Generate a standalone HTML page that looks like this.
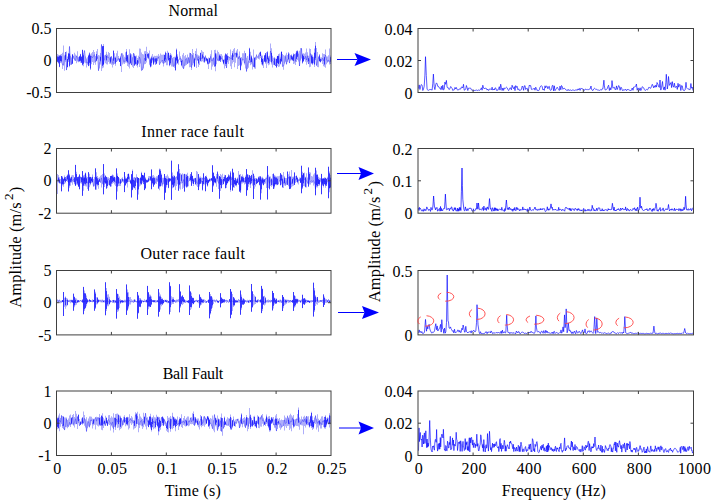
<!DOCTYPE html><html><head><meta charset="utf-8"><style>html,body{margin:0;padding:0;background:#fff;overflow:hidden}svg{display:block}text{font-family:"Liberation Serif",serif;fill:#000}</style></head><body>
<svg width="714" height="504" viewBox="0 0 714 504">
<rect width="714" height="504" fill="#fff"/>
<clipPath id="cl0"><rect x="56.5" y="28.5" width="274.5" height="64.0"/></clipPath>
<g clip-path="url(#cl0)">
<polygon points="57.0,54.0 58.0,54.0 58.0,54.7 59.0,54.7 59.0,55.5 60.0,55.5 60.0,54.6 61.0,54.6 61.0,54.1 62.0,54.1 62.0,52.7 63.0,52.7 63.0,45.6 64.0,45.6 64.0,55.5 65.0,55.5 65.0,51.9 66.0,51.9 66.0,51.5 67.0,51.5 67.0,56.4 68.0,56.4 68.0,53.2 69.0,53.2 69.0,46.4 70.0,46.4 70.0,55.8 71.0,55.8 71.0,57.6 72.0,57.6 72.0,54.3 73.0,54.3 73.0,55.9 74.0,55.9 74.0,52.7 75.0,52.7 75.0,54.6 76.0,54.6 76.0,55.8 77.0,55.8 77.0,51.2 78.0,51.2 78.0,57.1 79.0,57.1 79.0,55.9 80.0,55.9 80.0,53.8 81.0,53.8 81.0,56.0 82.0,56.0 82.0,49.6 83.0,49.6 83.0,53.6 84.0,53.6 84.0,50.6 85.0,50.6 85.0,56.6 86.0,56.6 86.0,58.4 87.0,58.4 87.0,57.2 88.0,57.2 88.0,54.7 89.0,54.7 89.0,52.7 90.0,52.7 90.0,54.4 91.0,54.4 91.0,53.3 92.0,53.3 92.0,52.0 93.0,52.0 93.0,50.0 94.0,50.0 94.0,52.0 95.0,52.0 95.0,56.1 96.0,56.1 96.0,51.2 97.0,51.2 97.0,49.1 98.0,49.1 98.0,55.1 99.0,55.1 99.0,55.4 100.0,55.4 100.0,52.9 101.0,52.9 101.0,44.4 102.0,44.4 102.0,46.0 103.0,46.0 103.0,43.9 104.0,43.9 104.0,55.3 105.0,55.3 105.0,54.8 106.0,54.8 106.0,51.8 107.0,51.8 107.0,54.7 108.0,54.7 108.0,52.1 109.0,52.1 109.0,53.0 110.0,53.0 110.0,56.5 111.0,56.5 111.0,56.3 112.0,56.3 112.0,58.4 113.0,58.4 113.0,50.2 114.0,50.2 114.0,53.3 115.0,53.3 115.0,56.6 116.0,56.6 116.0,53.2 117.0,53.2 117.0,50.7 118.0,50.7 118.0,55.9 119.0,55.9 119.0,58.3 120.0,58.3 120.0,56.3 121.0,56.3 121.0,53.4 122.0,53.4 122.0,53.2 123.0,53.2 123.0,54.7 124.0,54.7 124.0,56.7 125.0,56.7 125.0,52.2 126.0,52.2 126.0,49.0 127.0,49.0 127.0,54.9 128.0,54.9 128.0,54.4 129.0,54.4 129.0,49.3 130.0,49.3 130.0,53.0 131.0,53.0 131.0,54.3 132.0,54.3 132.0,57.2 133.0,57.2 133.0,53.2 134.0,53.2 134.0,53.7 135.0,53.7 135.0,55.7 136.0,55.7 136.0,55.4 137.0,55.4 137.0,58.0 138.0,58.0 138.0,55.7 139.0,55.7 139.0,48.5 140.0,48.5 140.0,48.8 141.0,48.8 141.0,52.5 142.0,52.5 142.0,54.1 143.0,54.1 143.0,54.4 144.0,54.4 144.0,51.3 145.0,51.3 145.0,51.1 146.0,51.1 146.0,46.8 147.0,46.8 147.0,52.2 148.0,52.2 148.0,53.2 149.0,53.2 149.0,50.4 150.0,50.4 150.0,57.7 151.0,57.7 151.0,55.7 152.0,55.7 152.0,54.0 153.0,54.0 153.0,56.5 154.0,56.5 154.0,55.8 155.0,55.8 155.0,55.9 156.0,55.9 156.0,55.7 157.0,55.7 157.0,55.7 158.0,55.7 158.0,54.0 159.0,54.0 159.0,55.7 160.0,55.7 160.0,53.4 161.0,53.4 161.0,54.8 162.0,54.8 162.0,54.7 163.0,54.7 163.0,54.6 164.0,54.6 164.0,54.4 165.0,54.4 165.0,51.5 166.0,51.5 166.0,52.9 167.0,52.9 167.0,50.8 168.0,50.8 168.0,52.7 169.0,52.7 169.0,55.5 170.0,55.5 170.0,53.1 171.0,53.1 171.0,54.6 172.0,54.6 172.0,58.1 173.0,58.1 173.0,57.1 174.0,57.1 174.0,56.8 175.0,56.8 175.0,56.8 176.0,56.8 176.0,48.6 177.0,48.6 177.0,54.2 178.0,54.2 178.0,59.4 179.0,59.4 179.0,51.4 180.0,51.4 180.0,56.3 181.0,56.3 181.0,58.7 182.0,58.7 182.0,54.7 183.0,54.7 183.0,52.9 184.0,52.9 184.0,56.2 185.0,56.2 185.0,55.1 186.0,55.1 186.0,57.5 187.0,57.5 187.0,54.5 188.0,54.5 188.0,57.5 189.0,57.5 189.0,52.8 190.0,52.8 190.0,53.0 191.0,53.0 191.0,54.1 192.0,54.1 192.0,49.1 193.0,49.1 193.0,53.0 194.0,53.0 194.0,57.5 195.0,57.5 195.0,50.9 196.0,50.9 196.0,48.6 197.0,48.6 197.0,54.5 198.0,54.5 198.0,55.3 199.0,55.3 199.0,55.7 200.0,55.7 200.0,52.7 201.0,52.7 201.0,49.9 202.0,49.9 202.0,51.6 203.0,51.6 203.0,51.9 204.0,51.9 204.0,56.7 205.0,56.7 205.0,55.3 206.0,55.3 206.0,57.7 207.0,57.7 207.0,58.3 208.0,58.3 208.0,57.5 209.0,57.5 209.0,58.0 210.0,58.0 210.0,54.3 211.0,54.3 211.0,50.2 212.0,50.2 212.0,58.5 213.0,58.5 213.0,57.5 214.0,57.5 214.0,50.0 215.0,50.0 215.0,49.7 216.0,49.7 216.0,53.4 217.0,53.4 217.0,50.4 218.0,50.4 218.0,51.9 219.0,51.9 219.0,53.7 220.0,53.7 220.0,54.3 221.0,54.3 221.0,54.1 222.0,54.1 222.0,55.8 223.0,55.8 223.0,59.5 224.0,59.5 224.0,55.5 225.0,55.5 225.0,53.0 226.0,53.0 226.0,54.2 227.0,54.2 227.0,53.0 228.0,53.0 228.0,56.5 229.0,56.5 229.0,56.8 230.0,56.8 230.0,49.4 231.0,49.4 231.0,55.2 232.0,55.2 232.0,50.9 233.0,50.9 233.0,49.3 234.0,49.3 234.0,48.0 235.0,48.0 235.0,52.8 236.0,52.8 236.0,50.6 237.0,50.6 237.0,48.9 238.0,48.9 238.0,56.8 239.0,56.8 239.0,51.5 240.0,51.5 240.0,57.4 241.0,57.4 241.0,56.9 242.0,56.9 242.0,53.3 243.0,53.3 243.0,53.2 244.0,53.2 244.0,50.8 245.0,50.8 245.0,53.2 246.0,53.2 246.0,57.7 247.0,57.7 247.0,56.0 248.0,56.0 248.0,60.8 249.0,60.8 249.0,47.7 250.0,47.7 250.0,51.7 251.0,51.7 251.0,55.3 252.0,55.3 252.0,58.4 253.0,58.4 253.0,49.6 254.0,49.6 254.0,57.2 255.0,57.2 255.0,56.8 256.0,56.8 256.0,54.3 257.0,54.3 257.0,56.8 258.0,56.8 258.0,54.4 259.0,54.4 259.0,52.6 260.0,52.6 260.0,51.5 261.0,51.5 261.0,55.9 262.0,55.9 262.0,55.4 263.0,55.4 263.0,58.3 264.0,58.3 264.0,55.4 265.0,55.4 265.0,53.1 266.0,53.1 266.0,52.1 267.0,52.1 267.0,51.0 268.0,51.0 268.0,56.4 269.0,56.4 269.0,55.7 270.0,55.7 270.0,43.5 271.0,43.5 271.0,48.3 272.0,48.3 272.0,55.8 273.0,55.8 273.0,57.7 274.0,57.7 274.0,57.1 275.0,57.1 275.0,58.6 276.0,58.6 276.0,58.7 277.0,58.7 277.0,55.9 278.0,55.9 278.0,54.0 279.0,54.0 279.0,53.5 280.0,53.5 280.0,57.6 281.0,57.6 281.0,51.7 282.0,51.7 282.0,53.9 283.0,53.9 283.0,55.1 284.0,55.1 284.0,55.8 285.0,55.8 285.0,54.7 286.0,54.7 286.0,52.7 287.0,52.7 287.0,54.9 288.0,54.9 288.0,52.0 289.0,52.0 289.0,53.4 290.0,53.4 290.0,55.5 291.0,55.5 291.0,54.8 292.0,54.8 292.0,56.0 293.0,56.0 293.0,53.3 294.0,53.3 294.0,54.3 295.0,54.3 295.0,53.6 296.0,53.6 296.0,51.0 297.0,51.0 297.0,50.7 298.0,50.7 298.0,53.8 299.0,53.8 299.0,50.8 300.0,50.8 300.0,47.9 301.0,47.9 301.0,48.3 302.0,48.3 302.0,53.6 303.0,53.6 303.0,53.2 304.0,53.2 304.0,53.7 305.0,53.7 305.0,52.6 306.0,52.6 306.0,48.4 307.0,48.4 307.0,52.2 308.0,52.2 308.0,55.8 309.0,55.8 309.0,48.6 310.0,48.6 310.0,49.0 311.0,49.0 311.0,54.2 312.0,54.2 312.0,54.7 313.0,54.7 313.0,56.8 314.0,56.8 314.0,48.5 315.0,48.5 315.0,42.1 316.0,42.1 316.0,47.9 317.0,47.9 317.0,52.0 318.0,52.0 318.0,56.2 319.0,56.2 319.0,54.1 320.0,54.1 320.0,57.6 321.0,57.6 321.0,57.3 322.0,57.3 322.0,53.2 323.0,53.2 323.0,54.1 324.0,54.1 324.0,54.1 325.0,54.1 325.0,49.4 326.0,49.4 326.0,56.4 327.0,56.4 327.0,56.6 328.0,56.6 328.0,55.2 329.0,55.2 329.0,48.5 330.0,48.5 330.0,55.5 331.0,55.5 331.0,63.9 330.0,63.9 330.0,64.4 329.0,64.4 329.0,61.9 328.0,61.9 328.0,62.8 327.0,62.8 327.0,64.2 326.0,64.2 326.0,67.7 325.0,67.7 325.0,66.8 324.0,66.8 324.0,66.2 323.0,66.2 323.0,64.1 322.0,64.1 322.0,61.0 321.0,61.0 321.0,62.4 320.0,62.4 320.0,61.4 319.0,61.4 319.0,67.3 318.0,67.3 318.0,67.0 317.0,67.0 317.0,65.5 316.0,65.5 316.0,59.9 315.0,59.9 315.0,66.9 314.0,66.9 314.0,63.2 313.0,63.2 313.0,64.4 312.0,64.4 312.0,64.1 311.0,64.1 311.0,66.7 310.0,66.7 310.0,67.2 309.0,67.2 309.0,64.1 308.0,64.1 308.0,62.3 307.0,62.3 307.0,64.7 306.0,64.7 306.0,61.7 305.0,61.7 305.0,59.2 304.0,59.2 304.0,61.6 303.0,61.6 303.0,63.7 302.0,63.7 302.0,58.6 301.0,58.6 301.0,60.4 300.0,60.4 300.0,66.0 299.0,66.0 299.0,61.6 298.0,61.6 298.0,60.0 297.0,60.0 297.0,61.9 296.0,61.9 296.0,65.1 295.0,65.1 295.0,63.5 294.0,63.5 294.0,64.0 293.0,64.0 293.0,60.8 292.0,60.8 292.0,60.3 291.0,60.3 291.0,60.6 290.0,60.6 290.0,63.1 289.0,63.1 289.0,59.4 288.0,59.4 288.0,61.9 287.0,61.9 287.0,64.3 286.0,64.3 286.0,61.8 285.0,61.8 285.0,63.6 284.0,63.6 284.0,69.7 283.0,69.7 283.0,66.6 282.0,66.6 282.0,61.8 281.0,61.8 281.0,64.4 280.0,64.4 280.0,66.5 279.0,66.5 279.0,67.0 278.0,67.0 278.0,66.0 277.0,66.0 277.0,67.5 276.0,67.5 276.0,66.0 275.0,66.0 275.0,65.1 274.0,65.1 274.0,65.1 273.0,65.1 273.0,67.6 272.0,67.6 272.0,64.6 271.0,64.6 271.0,61.8 270.0,61.8 270.0,64.6 269.0,64.6 269.0,65.2 268.0,65.2 268.0,63.5 267.0,63.5 267.0,67.9 266.0,67.9 266.0,63.7 265.0,63.7 265.0,62.0 264.0,62.0 264.0,67.9 263.0,67.9 263.0,65.8 262.0,65.8 262.0,64.5 261.0,64.5 261.0,58.0 260.0,58.0 260.0,59.4 259.0,59.4 259.0,59.1 258.0,59.1 258.0,58.3 257.0,58.3 257.0,59.8 256.0,59.8 256.0,68.7 255.0,68.7 255.0,68.5 254.0,68.5 254.0,66.8 253.0,66.8 253.0,69.5 252.0,69.5 252.0,64.2 251.0,64.2 251.0,65.2 250.0,65.2 250.0,62.9 249.0,62.9 249.0,67.8 248.0,67.8 248.0,69.0 247.0,69.0 247.0,72.0 246.0,72.0 246.0,68.5 245.0,68.5 245.0,64.5 244.0,64.5 244.0,59.7 243.0,59.7 243.0,60.5 242.0,60.5 242.0,66.3 241.0,66.3 241.0,70.4 240.0,70.4 240.0,65.3 239.0,65.3 239.0,66.0 238.0,66.0 238.0,69.0 237.0,69.0 237.0,57.9 236.0,57.9 236.0,62.7 235.0,62.7 235.0,67.3 234.0,67.3 234.0,61.9 233.0,61.9 233.0,63.5 232.0,63.5 232.0,68.9 231.0,68.9 231.0,66.3 230.0,66.3 230.0,60.4 229.0,60.4 229.0,64.0 228.0,64.0 228.0,62.2 227.0,62.2 227.0,67.9 226.0,67.9 226.0,66.1 225.0,66.1 225.0,68.5 224.0,68.5 224.0,64.4 223.0,64.4 223.0,61.6 222.0,61.6 222.0,59.3 221.0,59.3 221.0,61.8 220.0,61.8 220.0,60.8 219.0,60.8 219.0,61.2 218.0,61.2 218.0,61.0 217.0,61.0 217.0,64.2 216.0,64.2 216.0,71.3 215.0,71.3 215.0,66.8 214.0,66.8 214.0,64.8 213.0,64.8 213.0,66.4 212.0,66.4 212.0,69.7 211.0,69.7 211.0,62.5 210.0,62.5 210.0,63.7 209.0,63.7 209.0,69.0 208.0,69.0 208.0,64.4 207.0,64.4 207.0,61.2 206.0,61.2 206.0,61.2 205.0,61.2 205.0,63.0 204.0,63.0 204.0,62.2 203.0,62.2 203.0,61.3 202.0,61.3 202.0,61.7 201.0,61.7 201.0,61.6 200.0,61.6 200.0,65.1 199.0,65.1 199.0,67.1 198.0,67.1 198.0,60.4 197.0,60.4 197.0,67.9 196.0,67.9 196.0,60.3 195.0,60.3 195.0,66.5 194.0,66.5 194.0,63.3 193.0,63.3 193.0,65.2 192.0,65.2 192.0,69.9 191.0,69.9 191.0,66.9 190.0,66.9 190.0,67.3 189.0,67.3 189.0,63.2 188.0,63.2 188.0,63.7 187.0,63.7 187.0,65.1 186.0,65.1 186.0,65.5 185.0,65.5 185.0,66.0 184.0,66.0 184.0,68.8 183.0,68.8 183.0,67.8 182.0,67.8 182.0,66.3 181.0,66.3 181.0,62.3 180.0,62.3 180.0,59.5 179.0,59.5 179.0,64.7 178.0,64.7 178.0,63.9 177.0,63.9 177.0,64.4 176.0,64.4 176.0,71.1 175.0,71.1 175.0,67.7 174.0,67.7 174.0,66.9 173.0,66.9 173.0,66.6 172.0,66.6 172.0,66.5 171.0,66.5 171.0,64.9 170.0,64.9 170.0,66.2 169.0,66.2 169.0,61.3 168.0,61.3 168.0,65.3 167.0,65.3 167.0,65.2 166.0,65.2 166.0,62.6 165.0,62.6 165.0,63.2 164.0,63.2 164.0,66.6 163.0,66.6 163.0,63.3 162.0,63.3 162.0,61.4 161.0,61.4 161.0,63.1 160.0,63.1 160.0,64.7 159.0,64.7 159.0,58.8 158.0,58.8 158.0,61.1 157.0,61.1 157.0,64.0 156.0,64.0 156.0,64.5 155.0,64.5 155.0,62.5 154.0,62.5 154.0,64.7 153.0,64.7 153.0,60.3 152.0,60.3 152.0,66.5 151.0,66.5 151.0,67.4 150.0,67.4 150.0,64.7 149.0,64.7 149.0,58.9 148.0,58.9 148.0,57.9 147.0,57.9 147.0,62.6 146.0,62.6 146.0,63.9 145.0,63.9 145.0,64.2 144.0,64.2 144.0,68.4 143.0,68.4 143.0,69.9 142.0,69.9 142.0,70.6 141.0,70.6 141.0,63.5 140.0,63.5 140.0,67.0 139.0,67.0 139.0,64.0 138.0,64.0 138.0,67.4 137.0,67.4 137.0,65.8 136.0,65.8 136.0,64.7 135.0,64.7 135.0,66.0 134.0,66.0 134.0,68.0 133.0,68.0 133.0,66.7 132.0,66.7 132.0,65.1 131.0,65.1 131.0,64.1 130.0,64.1 130.0,68.6 129.0,68.6 129.0,66.7 128.0,66.7 128.0,65.9 127.0,65.9 127.0,62.4 126.0,62.4 126.0,62.6 125.0,62.6 125.0,64.0 124.0,64.0 124.0,63.6 123.0,63.6 123.0,64.6 122.0,64.6 122.0,71.9 121.0,71.9 121.0,66.3 120.0,66.3 120.0,62.0 119.0,62.0 119.0,60.5 118.0,60.5 118.0,60.4 117.0,60.4 117.0,61.8 116.0,61.8 116.0,65.7 115.0,65.7 115.0,64.0 114.0,64.0 114.0,64.9 113.0,64.9 113.0,67.5 112.0,67.5 112.0,64.8 111.0,64.8 111.0,63.9 110.0,63.9 110.0,63.7 109.0,63.7 109.0,61.9 108.0,61.9 108.0,64.6 107.0,64.6 107.0,64.2 106.0,64.2 106.0,63.3 105.0,63.3 105.0,60.2 104.0,60.2 104.0,67.5 103.0,67.5 103.0,68.3 102.0,68.3 102.0,70.9 101.0,70.9 101.0,64.4 100.0,64.4 100.0,68.5 99.0,68.5 99.0,70.7 98.0,70.7 98.0,58.9 97.0,58.9 97.0,61.2 96.0,61.2 96.0,64.7 95.0,64.7 95.0,62.7 94.0,62.7 94.0,65.0 93.0,65.0 93.0,61.9 92.0,61.9 92.0,64.2 91.0,64.2 91.0,70.1 90.0,70.1 90.0,65.4 89.0,65.4 89.0,66.3 88.0,66.3 88.0,64.7 87.0,64.7 87.0,67.4 86.0,67.4 86.0,63.2 85.0,63.2 85.0,62.4 84.0,62.4 84.0,66.3 83.0,66.3 83.0,65.6 82.0,65.6 82.0,63.1 81.0,63.1 81.0,62.7 80.0,62.7 80.0,61.8 79.0,61.8 79.0,62.2 78.0,62.2 78.0,61.6 77.0,61.6 77.0,63.2 76.0,63.2 76.0,60.7 75.0,60.7 75.0,60.4 74.0,60.4 74.0,58.8 73.0,58.8 73.0,63.8 72.0,63.8 72.0,64.6 71.0,64.6 71.0,65.0 70.0,65.0 70.0,67.3 69.0,67.3 69.0,62.1 68.0,62.1 68.0,67.6 67.0,67.6 67.0,70.1 66.0,70.1 66.0,61.8 65.0,61.8 65.0,70.8 64.0,70.8 64.0,65.3 63.0,65.3 63.0,69.0 62.0,69.0 62.0,62.4 61.0,62.4 61.0,63.1 60.0,63.1 60.0,67.2 59.0,67.2 59.0,63.8 58.0,63.8 58.0,62.3 57.0,62.3" fill="#aeaefa"/>
<path d="M57.5 56.5V61.7M58.5 56.7V62.7M59.5 56.3V66.8M60.5 55.5V61.1M61.5 56.2V61.4M65.5 54.7V59.9M67.5 59.0V67.0M68.5 53.5V59.5M69.5 53.6V65.9M72.5 54.8V63.7M79.5 57.0V61.2M80.5 54.3V60.8M81.5 57.0V62.7M82.5 50.0V64.8M83.5 55.3V63.7M88.5 55.7V65.9M89.5 54.4V62.8M90.5 55.9V68.6M96.5 54.1V60.6M100.5 56.8V60.7M102.5 46.3V65.8M103.5 46.0V64.5M106.5 56.0V60.4M110.5 57.3V62.6M113.5 50.9V60.7M115.5 57.7V63.5M119.5 59.4V61.9M120.5 57.6V66.0M126.5 51.6V61.1M127.5 55.3V62.4M130.5 55.4V62.9M134.5 55.8V65.4M135.5 56.5V64.1M137.5 60.0V65.1M145.5 53.9V60.7M147.5 54.1V56.4M148.5 53.6V57.7M150.5 59.3V66.6M151.5 57.4V62.9M153.5 57.5V64.4M155.5 58.4V61.7M156.5 58.3V63.4M164.5 55.0V60.8M165.5 52.6V59.5M168.5 53.0V60.1M169.5 58.0V65.3M170.5 54.9V63.4M175.5 57.8V70.0M176.5 49.7V60.5M177.5 56.6V63.0M181.5 60.9V65.3M194.5 58.6V66.5M198.5 59.2V63.5M200.5 52.9V60.8M202.5 54.5V57.9M204.5 57.7V61.8M206.5 58.3V60.2M207.5 59.2V63.6M209.5 58.3V62.5M215.5 53.3V66.3M219.5 55.5V60.7M220.5 56.2V59.7M223.5 59.9V63.6M225.5 54.2V63.9M226.5 54.6V63.9M227.5 55.8V59.9M232.5 53.2V60.0M236.5 52.7V56.9M240.5 58.2V70.0M249.5 48.5V60.1M251.5 56.4V62.2M254.5 57.8V67.2M260.5 51.9V56.0M261.5 57.8V62.1M262.5 59.0V64.4M264.5 55.4V61.4M265.5 54.6V62.3M267.5 52.3V59.3M268.5 58.3V63.1M271.5 52.9V62.4M274.5 58.4V64.7M276.5 59.0V67.4M277.5 56.2V62.9M278.5 55.8V63.8M280.5 58.9V63.7M281.5 51.9V61.3M288.5 53.5V59.2M291.5 55.9V59.2M292.5 57.3V59.6M293.5 54.6V60.9M296.5 52.4V58.9M297.5 51.4V56.8M302.5 54.6V62.7M303.5 55.9V61.3M308.5 58.2V61.3M311.5 55.6V62.9M312.5 56.7V63.1M314.5 52.7V64.5M315.5 45.7V57.9M319.5 55.3V61.1M320.5 59.0V61.7M324.5 57.2V64.5M330.5 57.2V61.8" stroke="#2020ff" stroke-width="0.85" fill="none"/>
<polyline points="57.5,59.0 58.5,59.6 59.5,55.5 60.5,59.9 61.5,62.4 62.5,64.7 63.5,65.3 64.5,59.4 65.5,52.0 66.5,70.1 67.5,61.7 68.5,58.8 69.5,46.4 70.5,58.5 71.5,64.6 72.5,54.3 73.5,57.0 74.5,58.9 75.5,60.7 76.5,55.8 77.5,58.1 78.5,61.3 79.5,55.9 80.5,59.3 81.5,60.3 82.5,59.2 83.5,53.6 84.5,50.6 85.5,56.6 86.5,62.7 87.5,62.3 88.5,63.9 89.5,52.7 90.5,62.6 91.5,56.2 92.5,57.8 93.5,56.2 94.5,54.6 95.5,61.8 96.5,59.7 97.5,56.5 98.5,70.7 99.5,63.0 100.5,61.4 101.5,44.4 102.5,56.9 103.5,64.4 104.5,59.9 105.5,55.6 106.5,54.6 107.5,57.4 108.5,57.1 109.5,59.0 110.5,61.1 111.5,56.5 112.5,63.2 113.5,63.4 114.5,57.7 115.5,58.9 116.5,61.8 117.5,60.4 118.5,58.3 119.5,60.1 120.5,57.5 121.5,53.4 122.5,57.4 123.5,61.2 124.5,62.2 125.5,57.9 126.5,58.8 127.5,57.1 128.5,62.7 129.5,64.3 130.5,53.8 131.5,65.1 132.5,59.2 133.5,53.2 134.5,61.9 135.5,62.1 136.5,63.5 137.5,61.0 138.5,62.5 139.5,57.1 140.5,59.9 141.5,70.6 142.5,69.9 143.5,65.3 144.5,58.2 145.5,60.6 146.5,59.6 147.5,56.5 148.5,57.2 149.5,60.8 150.5,66.4 151.5,63.5 152.5,58.3 153.5,62.6 154.5,58.7 155.5,64.5 156.5,64.0 157.5,58.4 158.5,56.9 159.5,64.7 160.5,63.1 161.5,61.3 162.5,60.0 163.5,63.6 164.5,58.1 165.5,62.2 166.5,59.6 167.5,57.4 168.5,52.7 169.5,59.1 170.5,59.9 171.5,55.9 172.5,60.8 173.5,66.2 174.5,65.4 175.5,60.5 176.5,54.7 177.5,62.2 178.5,60.3 179.5,58.8 180.5,58.1 181.5,62.0 182.5,60.3 183.5,68.8 184.5,66.0 185.5,59.2 186.5,58.6 187.5,63.7 188.5,57.5 189.5,62.6 190.5,53.0 191.5,67.7 192.5,55.2 193.5,60.9 194.5,66.5 195.5,54.0 196.5,55.7 197.5,60.4 198.5,56.7 199.5,59.0 200.5,59.1 201.5,57.8 202.5,59.0 203.5,56.3 204.5,59.3 205.5,56.4 206.5,61.2 207.5,59.3 208.5,64.0 209.5,60.7 210.5,56.4 211.5,60.7 212.5,60.9 213.5,57.8 214.5,66.4 215.5,54.6 216.5,57.7 217.5,59.7 218.5,60.4 219.5,55.6 220.5,61.8 221.5,57.7 222.5,59.6 223.5,62.7 224.5,60.1 225.5,58.7 226.5,67.9 227.5,58.1 228.5,56.5 229.5,57.7 230.5,58.3 231.5,59.0 232.5,54.5 233.5,56.6 234.5,53.6 235.5,53.4 236.5,55.3 237.5,53.6 238.5,58.8 239.5,56.2 240.5,61.0 241.5,64.7 242.5,58.7 243.5,59.7 244.5,63.1 245.5,53.2 246.5,71.1 247.5,65.0 248.5,61.4 249.5,54.3 250.5,62.3 251.5,57.8 252.5,62.5 253.5,66.8 254.5,60.8 255.5,58.7 256.5,55.3 257.5,56.8 258.5,57.3 259.5,53.1 260.5,53.4 261.5,55.9 262.5,64.5 263.5,61.8 264.5,59.9 265.5,53.1 266.5,61.5 267.5,55.7 268.5,58.6 269.5,61.2 270.5,51.0 271.5,56.0 272.5,60.8 273.5,61.6 274.5,64.6 275.5,66.0 276.5,60.2 277.5,55.9 278.5,63.7 279.5,61.3 280.5,57.6 281.5,51.7 282.5,66.6 283.5,66.1 284.5,63.6 285.5,56.4 286.5,64.3 287.5,59.6 288.5,59.4 289.5,63.1 290.5,55.5 291.5,54.8 292.5,60.2 293.5,56.1 294.5,54.3 295.5,61.4 296.5,51.0 297.5,50.7 298.5,53.8 299.5,66.0 300.5,55.9 301.5,48.3 302.5,60.3 303.5,57.6 304.5,59.2 305.5,56.3 306.5,60.0 307.5,55.7 308.5,64.0 309.5,61.1 310.5,53.5 311.5,57.6 312.5,64.4 313.5,59.9 314.5,57.7 315.5,58.2 316.5,65.5 317.5,61.3 318.5,57.4 319.5,59.4 320.5,62.1 321.5,59.9 322.5,58.2 323.5,60.8 324.5,58.1 325.5,55.0 326.5,59.5 327.5,61.5 328.5,59.9 329.5,61.3 330.5,63.8" fill="none" stroke="#00f" stroke-width="0.3"/>
</g>
<rect x="56.5" y="28.5" width="274.5" height="64" fill="none" stroke="#404040" stroke-width="1"/>
<path d="" stroke="#404040" stroke-width="1" fill="none"/>
<text x="51.5" y="34.1" text-anchor="end" font-size="16">0.5</text>
<text x="51.5" y="66.1" text-anchor="end" font-size="16">0</text>
<text x="51.5" y="98.1" text-anchor="end" font-size="16">-0.5</text>
<text x="193.2" y="16.3" text-anchor="middle" font-size="16" textLength="49.5" lengthAdjust="spacing">Normal</text>
<clipPath id="cr0"><rect x="418.0" y="28.5" width="275.5" height="64.0"/></clipPath>
<g clip-path="url(#cr0)">
<polyline points="418.5,88.5 419.2,84.9 419.9,89.5 420.6,86.3 421.4,84.5 422.1,85.4 422.8,90.5 423.5,89.0 424.2,86.3 424.9,75.1 425.5,56.7 426.3,75.5 427.1,89.4 427.8,90.0 428.5,90.3 429.2,89.7 429.9,89.6 430.7,89.5 431.4,89.7 432.1,90.1 432.8,83.3 433.4,74.1 434.2,86.8 434.9,89.6 435.7,84.7 436.4,82.9 437.1,83.8 437.8,86.4 438.5,86.4 439.2,87.8 439.9,88.0 440.7,89.5 441.4,86.3 442.1,89.7 442.8,85.2 443.5,89.9 444.2,89.4 444.9,82.1 445.7,84.3 446.4,80.4 447.1,87.1 447.8,88.0 448.5,87.9 449.2,89.6 450.0,88.3 450.7,86.5 451.4,87.4 452.1,88.4 452.8,90.6 453.5,90.0 454.2,89.9 455.0,87.4 455.7,88.9 456.4,87.5 457.1,89.6 457.8,90.0 458.5,90.0 459.2,89.0 460.0,88.8 460.7,89.1 461.4,87.1 462.1,86.9 462.8,87.9 463.5,84.3 464.2,90.2 465.0,89.9 465.7,89.2 466.4,85.5 467.1,87.7 467.8,90.5 468.5,88.1 469.3,88.2 470.0,88.0 470.7,88.2 471.4,89.8 472.1,90.2 472.8,90.3 473.5,90.6 474.3,90.5 475.0,90.4 475.7,90.3 476.4,90.0 477.1,90.5 477.8,90.4 478.5,90.0 479.3,90.3 480.0,90.1 480.7,89.2 481.4,87.8 482.1,90.2 482.8,85.2 483.6,88.0 484.3,88.9 485.0,88.0 485.7,88.3 486.4,88.5 487.1,90.1 487.8,89.2 488.6,90.5 489.3,89.2 490.0,88.7 490.7,89.1 491.4,89.8 492.1,87.2 492.8,90.1 493.6,89.0 494.3,90.0 495.0,87.9 495.7,87.9 496.4,90.3 497.1,89.9 497.8,90.4 498.6,88.5 499.3,86.7 500.0,90.1 500.7,84.2 501.4,87.5 502.1,90.5 502.9,88.0 503.6,90.4 504.3,87.8 505.0,88.6 505.7,87.8 506.4,87.2 507.1,87.8 507.9,89.5 508.6,90.6 509.3,89.4 510.0,87.7 510.7,88.1 511.4,89.8 512.1,85.2 512.9,87.6 513.6,88.7 514.3,86.6 515.0,90.6 515.7,85.6 516.4,87.4 517.1,86.3 517.9,89.7 518.6,88.8 519.3,90.4 520.0,89.8 520.7,90.2 521.4,89.4 522.2,86.0 522.9,86.9 523.6,90.3 524.3,85.9 525.0,85.6 525.7,89.5 526.4,88.5 527.2,88.2 527.9,90.8 528.6,88.9 529.3,85.1 530.0,86.0 530.7,85.6 531.4,89.3 532.2,89.6 532.9,88.7 533.6,89.0 534.3,88.2 535.0,90.2 535.7,87.2 536.4,88.5 537.2,90.6 537.9,90.1 538.6,90.7 539.3,89.8 540.0,87.2 540.7,86.2 541.5,85.7 542.2,86.6 542.9,90.0 543.6,89.3 544.3,90.4 545.0,85.8 545.7,87.9 546.5,85.8 547.2,86.5 547.9,88.8 548.6,86.7 549.3,86.3 550.0,90.0 550.7,90.4 551.5,89.7 552.2,85.7 552.9,85.3 553.6,90.8 554.3,85.8 555.0,90.7 555.8,89.4 556.5,88.5 557.2,87.2 557.9,88.4 558.6,89.5 559.3,90.5 560.0,86.1 560.8,89.8 561.5,85.5 562.2,86.4 562.9,89.3 563.6,88.4 564.3,88.1 565.0,89.0 565.8,89.6 566.5,90.4 567.2,89.6 567.9,90.7 568.6,89.5 569.3,90.4 570.0,90.1 570.8,90.0 571.5,90.5 572.2,89.8 572.9,90.4 573.6,90.1 574.3,90.5 575.1,90.2 575.8,89.9 576.5,89.9 577.2,90.4 577.9,88.9 578.6,89.9 579.3,88.4 580.1,90.4 580.8,88.3 581.5,88.5 582.2,88.9 582.9,88.8 583.6,90.0 584.3,90.6 585.1,89.1 585.8,89.3 586.5,89.6 587.2,89.9 587.9,89.2 588.6,89.8 589.3,89.1 590.1,89.0 591.0,86.0 591.5,89.2 592.2,90.2 592.9,90.6 593.6,89.0 594.4,88.3 595.1,88.6 595.8,89.6 596.5,89.3 597.2,89.9 597.9,89.9 598.6,90.1 599.4,90.4 600.1,90.2 600.8,89.5 601.5,90.1 602.2,88.8 602.9,88.8 603.9,80.2 604.4,85.9 605.1,89.9 605.8,89.8 606.5,89.4 607.2,88.8 607.9,86.5 608.6,85.2 609.4,90.5 610.1,87.7 610.8,89.9 611.5,87.1 612.0,80.6 612.9,88.2 613.7,87.6 614.4,87.3 615.1,89.7 615.8,89.4 616.5,85.9 617.2,89.6 617.9,87.7 618.7,85.5 619.4,86.8 620.1,90.3 620.8,87.2 621.5,87.6 622.2,90.0 622.9,90.8 623.7,89.6 624.4,90.3 625.1,89.2 625.8,89.7 626.5,90.7 627.2,89.2 627.9,89.9 628.7,89.6 629.4,90.2 630.1,90.2 630.8,90.9 631.5,89.8 632.2,88.0 633.0,90.3 633.7,87.0 634.4,87.0 635.1,86.4 635.8,86.3 636.4,84.0 637.2,90.2 638.0,87.9 638.7,88.7 639.4,90.3 640.1,87.8 640.8,90.6 641.5,89.5 642.2,86.7 643.0,87.3 643.7,87.8 644.4,89.6 645.1,90.5 645.8,90.0 646.5,89.4 647.2,89.9 648.0,89.4 648.7,87.4 649.4,87.4 650.1,88.3 650.8,88.1 651.5,86.2 652.3,84.3 653.0,85.9 653.7,87.9 654.4,85.8 655.1,87.3 655.8,85.1 656.5,87.1 657.0,82.5 658.0,84.4 658.7,86.9 659.4,87.4 660.0,80.0 660.8,90.1 661.5,87.6 662.5,81.5 663.0,86.7 663.7,89.7 664.4,86.9 665.1,90.2 665.8,82.7 666.3,74.3 667.3,89.0 668.0,84.8 668.5,76.5 669.4,85.4 670.1,84.2 671.0,82.5 671.6,87.6 672.3,81.6 673.0,85.9 673.7,87.2 674.4,83.2 675.1,87.5 675.8,87.1 676.6,86.2 677.3,89.4 678.0,83.3 678.7,87.2 679.4,84.7 680.1,84.6 680.8,90.5 681.6,85.6 682.3,85.9 683.0,90.1 683.7,90.3 684.4,90.6 685.1,90.0 686.0,82.3 686.6,87.6 687.3,88.6 688.0,89.3 688.7,88.9 689.4,89.5 690.1,89.7 690.9,83.5 691.6,88.2 692.3,87.1 693.0,90.6" fill="none" stroke="#00f" stroke-width="0.65" stroke-linejoin="round"/>
</g>
<rect x="418" y="28.5" width="275.5" height="64" fill="none" stroke="#404040" stroke-width="1"/>
<path d="M473.1 28.5v3M473.1 92.5v-3M528.2 28.5v3M528.2 92.5v-3M583.3 28.5v3M583.3 92.5v-3M638.4 28.5v3M638.4 92.5v-3M418 60.5h3M693.5 60.5h-3" stroke="#404040" stroke-width="1" fill="none"/>
<text x="412.5" y="34.5" text-anchor="end" font-size="16">0.04</text>
<text x="412.5" y="66.5" text-anchor="end" font-size="16">0.02</text>
<text x="412.5" y="98.5" text-anchor="end" font-size="16">0</text>
<clipPath id="cl1"><rect x="56.5" y="148.5" width="274.5" height="64.69999999999999"/></clipPath>
<g clip-path="url(#cl1)">
<polygon points="57.0,174.1 58.0,174.1 58.0,174.9 59.0,174.9 59.0,177.2 60.0,177.2 60.0,179.1 61.0,179.1 61.0,176.0 62.0,176.0 62.0,176.2 63.0,176.2 63.0,178.5 64.0,178.5 64.0,175.4 65.0,175.4 65.0,177.1 66.0,177.1 66.0,175.9 67.0,175.9 67.0,174.7 68.0,174.7 68.0,170.3 69.0,170.3 69.0,173.8 70.0,173.8 70.0,177.3 71.0,177.3 71.0,175.5 72.0,175.5 72.0,174.9 73.0,174.9 73.0,175.3 74.0,175.3 74.0,177.1 75.0,177.1 75.0,164.9 76.0,164.9 76.0,171.8 77.0,171.8 77.0,176.9 78.0,176.9 78.0,176.2 79.0,176.2 79.0,174.1 80.0,174.1 80.0,176.8 81.0,176.8 81.0,177.1 82.0,177.1 82.0,171.1 83.0,171.1 83.0,175.2 84.0,175.2 84.0,174.8 85.0,174.8 85.0,172.8 86.0,172.8 86.0,176.4 87.0,176.4 87.0,177.1 88.0,177.1 88.0,172.2 89.0,172.2 89.0,173.7 90.0,173.7 90.0,176.7 91.0,176.7 91.0,176.9 92.0,176.9 92.0,174.5 93.0,174.5 93.0,179.0 94.0,179.0 94.0,177.1 95.0,177.1 95.0,168.4 96.0,168.4 96.0,172.2 97.0,172.2 97.0,175.9 98.0,175.9 98.0,177.7 99.0,177.7 99.0,177.3 100.0,177.3 100.0,175.8 101.0,175.8 101.0,175.0 102.0,175.0 102.0,174.0 103.0,174.0 103.0,164.1 104.0,164.1 104.0,173.5 105.0,173.5 105.0,175.2 106.0,175.2 106.0,176.8 107.0,176.8 107.0,177.3 108.0,177.3 108.0,177.3 109.0,177.3 109.0,178.5 110.0,178.5 110.0,176.1 111.0,176.1 111.0,176.0 112.0,176.0 112.0,174.8 113.0,174.8 113.0,175.3 114.0,175.3 114.0,176.7 115.0,176.7 115.0,177.4 116.0,177.4 116.0,168.4 117.0,168.4 117.0,173.5 118.0,173.5 118.0,177.0 119.0,177.0 119.0,178.2 120.0,178.2 120.0,178.9 121.0,178.9 121.0,178.3 122.0,178.3 122.0,177.3 123.0,177.3 123.0,179.1 124.0,179.1 124.0,172.0 125.0,172.0 125.0,176.6 126.0,176.6 126.0,177.9 127.0,177.9 127.0,174.1 128.0,174.1 128.0,173.8 129.0,173.8 129.0,176.7 130.0,176.7 130.0,180.3 131.0,180.3 131.0,174.2 132.0,174.2 132.0,169.6 133.0,169.6 133.0,177.6 134.0,177.6 134.0,177.4 135.0,177.4 135.0,177.7 136.0,177.7 136.0,174.3 137.0,174.3 137.0,177.3 138.0,177.3 138.0,178.0 139.0,178.0 139.0,179.1 140.0,179.1 140.0,176.7 141.0,176.7 141.0,171.7 142.0,171.7 142.0,174.9 143.0,174.9 143.0,175.2 144.0,175.2 144.0,172.8 145.0,172.8 145.0,177.3 146.0,177.3 146.0,179.4 147.0,179.4 147.0,179.4 148.0,179.4 148.0,176.3 149.0,176.3 149.0,176.0 150.0,176.0 150.0,176.1 151.0,176.1 151.0,169.5 152.0,169.5 152.0,175.6 153.0,175.6 153.0,174.9 154.0,174.9 154.0,176.5 155.0,176.5 155.0,177.4 156.0,177.4 156.0,176.2 157.0,176.2 157.0,176.2 158.0,176.2 158.0,174.9 159.0,174.9 159.0,168.4 160.0,168.4 160.0,168.9 161.0,168.9 161.0,173.4 162.0,173.4 162.0,177.8 163.0,177.8 163.0,177.8 164.0,177.8 164.0,174.0 165.0,174.0 165.0,176.3 166.0,176.3 166.0,175.7 167.0,175.7 167.0,174.5 168.0,174.5 168.0,176.6 169.0,176.6 169.0,178.0 170.0,178.0 170.0,178.5 171.0,178.5 171.0,160.7 172.0,160.7 172.0,172.6 173.0,172.6 173.0,175.2 174.0,175.2 174.0,175.8 175.0,175.8 175.0,177.6 176.0,177.6 176.0,176.7 177.0,176.7 177.0,171.0 178.0,171.0 178.0,164.3 179.0,164.3 179.0,169.0 180.0,169.0 180.0,173.3 181.0,173.3 181.0,174.5 182.0,174.5 182.0,173.3 183.0,173.3 183.0,174.3 184.0,174.3 184.0,173.9 185.0,173.9 185.0,174.2 186.0,174.2 186.0,174.6 187.0,174.6 187.0,172.8 188.0,172.8 188.0,176.3 189.0,176.3 189.0,178.1 190.0,178.1 190.0,174.2 191.0,174.2 191.0,172.2 192.0,172.2 192.0,175.8 193.0,175.8 193.0,178.3 194.0,178.3 194.0,178.0 195.0,178.0 195.0,177.7 196.0,177.7 196.0,171.1 197.0,171.1 197.0,171.7 198.0,171.7 198.0,174.1 199.0,174.1 199.0,176.8 200.0,176.8 200.0,176.5 201.0,176.5 201.0,177.4 202.0,177.4 202.0,177.9 203.0,177.9 203.0,173.3 204.0,173.3 204.0,177.6 205.0,177.6 205.0,176.2 206.0,176.2 206.0,175.6 207.0,175.6 207.0,178.3 208.0,178.3 208.0,179.7 209.0,179.7 209.0,178.2 210.0,178.2 210.0,178.7 211.0,178.7 211.0,178.1 212.0,178.1 212.0,165.3 213.0,165.3 213.0,172.7 214.0,172.7 214.0,175.9 215.0,175.9 215.0,178.0 216.0,178.0 216.0,173.9 217.0,173.9 217.0,171.1 218.0,171.1 218.0,174.2 219.0,174.2 219.0,176.1 220.0,176.1 220.0,173.9 221.0,173.9 221.0,175.3 222.0,175.3 222.0,173.8 223.0,173.8 223.0,176.9 224.0,176.9 224.0,174.7 225.0,174.7 225.0,175.2 226.0,175.2 226.0,177.8 227.0,177.8 227.0,176.9 228.0,176.9 228.0,173.9 229.0,173.9 229.0,175.0 230.0,175.0 230.0,171.0 231.0,171.0 231.0,176.7 232.0,176.7 232.0,168.8 233.0,168.8 233.0,172.1 234.0,172.1 234.0,177.9 235.0,177.9 235.0,177.5 236.0,177.5 236.0,179.0 237.0,179.0 237.0,177.6 238.0,177.6 238.0,170.9 239.0,170.9 239.0,174.8 240.0,174.8 240.0,174.1 241.0,174.1 241.0,176.2 242.0,176.2 242.0,174.4 243.0,174.4 243.0,176.6 244.0,176.6 244.0,178.1 245.0,178.1 245.0,175.4 246.0,175.4 246.0,169.1 247.0,169.1 247.0,174.3 248.0,174.3 248.0,174.7 249.0,174.7 249.0,174.9 250.0,174.9 250.0,176.3 251.0,176.3 251.0,174.8 252.0,174.8 252.0,170.2 253.0,170.2 253.0,173.8 254.0,173.8 254.0,175.8 255.0,175.8 255.0,178.0 256.0,178.0 256.0,178.5 257.0,178.5 257.0,178.8 258.0,178.8 258.0,176.5 259.0,176.5 259.0,176.5 260.0,176.5 260.0,176.4 261.0,176.4 261.0,177.4 262.0,177.4 262.0,176.7 263.0,176.7 263.0,178.7 264.0,178.7 264.0,179.0 265.0,179.0 265.0,177.8 266.0,177.8 266.0,177.8 267.0,177.8 267.0,166.1 268.0,166.1 268.0,174.8 269.0,174.8 269.0,176.3 270.0,176.3 270.0,176.4 271.0,176.4 271.0,178.4 272.0,178.4 272.0,174.1 273.0,174.1 273.0,173.7 274.0,173.7 274.0,175.1 275.0,175.1 275.0,175.7 276.0,175.7 276.0,176.6 277.0,176.6 277.0,176.2 278.0,176.2 278.0,176.3 279.0,176.3 279.0,175.7 280.0,175.7 280.0,173.2 281.0,173.2 281.0,174.1 282.0,174.1 282.0,175.3 283.0,175.3 283.0,172.1 284.0,172.1 284.0,176.3 285.0,176.3 285.0,177.9 286.0,177.9 286.0,178.1 287.0,178.1 287.0,171.6 288.0,171.6 288.0,174.2 289.0,174.2 289.0,171.4 290.0,171.4 290.0,176.4 291.0,176.4 291.0,170.1 292.0,170.1 292.0,176.8 293.0,176.8 293.0,176.6 294.0,176.6 294.0,172.5 295.0,172.5 295.0,176.1 296.0,176.1 296.0,175.2 297.0,175.2 297.0,176.9 298.0,176.9 298.0,179.1 299.0,179.1 299.0,177.5 300.0,177.5 300.0,177.6 301.0,177.6 301.0,165.8 302.0,165.8 302.0,171.7 303.0,171.7 303.0,173.2 304.0,173.2 304.0,172.6 305.0,172.6 305.0,176.8 306.0,176.8 306.0,173.2 307.0,173.2 307.0,177.4 308.0,177.4 308.0,167.5 309.0,167.5 309.0,171.9 310.0,171.9 310.0,172.6 311.0,172.6 311.0,176.1 312.0,176.1 312.0,176.5 313.0,176.5 313.0,174.4 314.0,174.4 314.0,173.2 315.0,173.2 315.0,167.8 316.0,167.8 316.0,170.5 317.0,170.5 317.0,174.6 318.0,174.6 318.0,176.7 319.0,176.7 319.0,177.7 320.0,177.7 320.0,178.0 321.0,178.0 321.0,173.9 322.0,173.9 322.0,178.1 323.0,178.1 323.0,178.2 324.0,178.2 324.0,177.2 325.0,177.2 325.0,177.8 326.0,177.8 326.0,178.6 327.0,178.6 327.0,176.8 328.0,176.8 328.0,166.8 329.0,166.8 329.0,171.4 330.0,171.4 330.0,175.0 331.0,175.0 331.0,187.7 330.0,187.7 330.0,192.2 329.0,192.2 329.0,198.2 328.0,198.2 328.0,182.3 327.0,182.3 327.0,185.8 326.0,185.8 326.0,187.7 325.0,187.7 325.0,184.6 324.0,184.6 324.0,187.6 323.0,187.6 323.0,185.7 322.0,185.7 322.0,194.2 321.0,194.2 321.0,182.2 320.0,182.2 320.0,185.7 319.0,185.7 319.0,186.0 318.0,186.0 318.0,187.5 317.0,187.5 317.0,187.3 316.0,187.3 316.0,195.2 315.0,195.2 315.0,183.5 314.0,183.5 314.0,185.5 313.0,185.5 313.0,182.7 312.0,182.7 312.0,183.0 311.0,183.0 311.0,184.5 310.0,184.5 310.0,184.4 309.0,184.4 309.0,186.6 308.0,186.6 308.0,183.8 307.0,183.8 307.0,187.4 306.0,187.4 306.0,187.6 305.0,187.6 305.0,186.2 304.0,186.2 304.0,185.9 303.0,185.9 303.0,189.1 302.0,189.1 302.0,193.2 301.0,193.2 301.0,182.9 300.0,182.9 300.0,181.0 299.0,181.0 299.0,184.5 298.0,184.5 298.0,183.3 297.0,183.3 297.0,182.1 296.0,182.1 296.0,183.0 295.0,183.0 295.0,184.9 294.0,184.9 294.0,185.8 293.0,185.8 293.0,186.3 292.0,186.3 292.0,187.2 291.0,187.2 291.0,189.1 290.0,189.1 290.0,189.1 289.0,189.1 289.0,186.2 288.0,186.2 288.0,184.8 287.0,184.8 287.0,185.1 286.0,185.1 286.0,186.1 285.0,186.1 285.0,185.5 284.0,185.5 284.0,187.9 283.0,187.9 283.0,187.6 282.0,187.6 282.0,184.5 281.0,184.5 281.0,185.2 280.0,185.2 280.0,181.5 279.0,181.5 279.0,184.3 278.0,184.3 278.0,184.8 277.0,184.8 277.0,185.3 276.0,185.3 276.0,184.6 275.0,184.6 275.0,188.4 274.0,188.4 274.0,188.9 273.0,188.9 273.0,185.4 272.0,185.4 272.0,186.8 271.0,186.8 271.0,186.0 270.0,186.0 270.0,189.8 269.0,189.8 269.0,188.1 268.0,188.1 268.0,199.4 267.0,199.4 267.0,188.1 266.0,188.1 266.0,183.4 265.0,183.4 265.0,184.1 264.0,184.1 264.0,185.4 263.0,185.4 263.0,184.5 262.0,184.5 262.0,193.3 261.0,193.3 261.0,199.6 260.0,199.6 260.0,185.5 259.0,185.5 259.0,182.2 258.0,182.2 258.0,183.3 257.0,183.3 257.0,184.3 256.0,184.3 256.0,186.6 255.0,186.6 255.0,188.8 254.0,188.8 254.0,199.0 253.0,199.0 253.0,185.5 252.0,185.5 252.0,183.3 251.0,183.3 251.0,187.9 250.0,187.9 250.0,184.4 249.0,184.4 249.0,186.8 248.0,186.8 248.0,190.3 247.0,190.3 247.0,195.7 246.0,195.7 246.0,183.9 245.0,183.9 245.0,184.5 244.0,184.5 244.0,183.1 243.0,183.1 243.0,183.5 242.0,183.5 242.0,183.6 241.0,183.6 241.0,192.6 240.0,192.6 240.0,191.6 239.0,191.6 239.0,184.6 238.0,184.6 238.0,182.9 237.0,182.9 237.0,186.5 236.0,186.5 236.0,185.4 235.0,185.4 235.0,187.7 234.0,187.7 234.0,187.8 233.0,187.8 233.0,190.6 232.0,190.6 232.0,185.3 231.0,185.3 231.0,191.8 230.0,191.8 230.0,181.5 229.0,181.5 229.0,182.3 228.0,182.3 228.0,183.7 227.0,183.7 227.0,188.1 226.0,188.1 226.0,188.2 225.0,188.2 225.0,182.3 224.0,182.3 224.0,184.6 223.0,184.6 223.0,185.0 222.0,185.0 222.0,188.3 221.0,188.3 221.0,190.9 220.0,190.9 220.0,198.7 219.0,198.7 219.0,189.0 218.0,189.0 218.0,181.4 217.0,181.4 217.0,186.7 216.0,186.7 216.0,183.5 215.0,183.5 215.0,183.2 214.0,183.2 214.0,186.4 213.0,186.4 213.0,191.9 212.0,191.9 212.0,180.7 211.0,180.7 211.0,181.5 210.0,181.5 210.0,181.7 209.0,181.7 209.0,182.9 208.0,182.9 208.0,186.7 207.0,186.7 207.0,183.9 206.0,183.9 206.0,191.2 205.0,191.2 205.0,184.6 204.0,184.6 204.0,185.5 203.0,185.5 203.0,190.7 202.0,190.7 202.0,183.4 201.0,183.4 201.0,184.1 200.0,184.1 200.0,186.4 199.0,186.4 199.0,190.1 198.0,190.1 198.0,186.9 197.0,186.9 197.0,185.4 196.0,185.4 196.0,184.8 195.0,184.8 195.0,182.0 194.0,182.0 194.0,186.0 193.0,186.0 193.0,183.4 192.0,183.4 192.0,185.8 191.0,185.8 191.0,181.4 190.0,181.4 190.0,181.0 189.0,181.0 189.0,186.3 188.0,186.3 188.0,187.3 187.0,187.3 187.0,188.0 186.0,188.0 186.0,186.4 185.0,186.4 185.0,191.6 184.0,191.6 184.0,187.8 183.0,187.8 183.0,189.1 182.0,189.1 182.0,183.4 181.0,183.4 181.0,189.4 180.0,189.4 180.0,188.4 179.0,188.4 179.0,190.7 178.0,190.7 178.0,184.2 177.0,184.2 177.0,186.1 176.0,186.1 176.0,189.9 175.0,189.9 175.0,186.6 174.0,186.6 174.0,187.4 173.0,187.4 173.0,188.3 172.0,188.3 172.0,199.8 171.0,199.8 171.0,181.1 170.0,181.1 170.0,181.6 169.0,181.6 169.0,188.3 168.0,188.3 168.0,185.1 167.0,185.1 167.0,187.6 166.0,187.6 166.0,193.0 165.0,193.0 165.0,199.8 164.0,199.8 164.0,184.3 163.0,184.3 163.0,186.5 162.0,186.5 162.0,185.8 161.0,185.8 161.0,186.3 160.0,186.3 160.0,190.3 159.0,190.3 159.0,188.6 158.0,188.6 158.0,181.9 157.0,181.9 157.0,183.9 156.0,183.9 156.0,182.9 155.0,182.9 155.0,184.5 154.0,184.5 154.0,186.8 153.0,186.8 153.0,184.5 152.0,184.5 152.0,189.2 151.0,189.2 151.0,181.1 150.0,181.1 150.0,180.8 149.0,180.8 149.0,182.1 148.0,182.1 148.0,182.7 147.0,182.7 147.0,182.8 146.0,182.8 146.0,188.6 145.0,188.6 145.0,190.1 144.0,190.1 144.0,184.2 143.0,184.2 143.0,182.8 142.0,182.8 142.0,185.1 141.0,185.1 141.0,185.6 140.0,185.6 140.0,186.5 139.0,186.5 139.0,194.5 138.0,194.5 138.0,199.7 137.0,199.7 137.0,182.4 136.0,182.4 136.0,190.1 135.0,190.1 135.0,188.6 134.0,188.6 134.0,188.2 133.0,188.2 133.0,190.3 132.0,190.3 132.0,197.4 131.0,197.4 131.0,183.5 130.0,183.5 130.0,182.0 129.0,182.0 129.0,182.0 128.0,182.0 128.0,187.5 127.0,187.5 127.0,184.1 126.0,184.1 126.0,185.8 125.0,185.8 125.0,192.1 124.0,192.1 124.0,182.8 123.0,182.8 123.0,182.1 122.0,182.1 122.0,182.6 121.0,182.6 121.0,185.9 120.0,185.9 120.0,186.1 119.0,186.1 119.0,186.1 118.0,186.1 118.0,191.5 117.0,191.5 117.0,199.6 116.0,199.6 116.0,186.1 115.0,186.1 115.0,184.5 114.0,184.5 114.0,183.1 113.0,183.1 113.0,183.7 112.0,183.7 112.0,186.6 111.0,186.6 111.0,186.5 110.0,186.5 110.0,185.5 109.0,185.5 109.0,184.8 108.0,184.8 108.0,187.7 107.0,187.7 107.0,188.9 106.0,188.9 106.0,183.6 105.0,183.6 105.0,186.9 104.0,186.9 104.0,194.3 103.0,194.3 103.0,184.3 102.0,184.3 102.0,187.4 101.0,187.4 101.0,183.0 100.0,183.0 100.0,182.0 99.0,182.0 99.0,188.7 98.0,188.7 98.0,186.2 97.0,186.2 97.0,189.7 96.0,189.7 96.0,189.6 95.0,189.6 95.0,186.3 94.0,186.3 94.0,186.9 93.0,186.9 93.0,182.5 92.0,182.5 92.0,183.1 91.0,183.1 91.0,185.3 90.0,185.3 90.0,187.2 89.0,187.2 89.0,190.7 88.0,190.7 88.0,189.0 87.0,189.0 87.0,186.5 86.0,186.5 86.0,186.3 85.0,186.3 85.0,185.8 84.0,185.8 84.0,190.7 83.0,190.7 83.0,195.8 82.0,195.8 82.0,183.7 81.0,183.7 81.0,183.3 80.0,183.3 80.0,189.6 79.0,189.6 79.0,187.0 78.0,187.0 78.0,185.1 77.0,185.1 77.0,184.6 76.0,184.6 76.0,185.8 75.0,185.8 75.0,184.0 74.0,184.0 74.0,182.0 73.0,182.0 73.0,184.7 72.0,184.7 72.0,182.7 71.0,182.7 71.0,185.7 70.0,185.7 70.0,187.7 69.0,187.7 69.0,191.4 68.0,191.4 68.0,181.7 67.0,181.7 67.0,181.0 66.0,181.0 66.0,183.3 65.0,183.3 65.0,184.0 64.0,184.0 64.0,186.7 63.0,186.7 63.0,185.5 62.0,185.5 62.0,191.3 61.0,191.3 61.0,183.6 60.0,183.6 60.0,183.7 59.0,183.7 59.0,182.8 58.0,182.8 58.0,193.9 57.0,193.9" fill="#aeaefa"/>
<path d="M58.5 177.5V181.2M59.5 179.5V182.8M61.5 176.0V191.3M62.5 177.5V184.2M63.5 179.1V184.4M64.5 177.4V180.7M65.5 178.8V181.9M67.5 176.2V179.5M68.5 170.3V191.4M69.5 175.3V185.6M70.5 178.8V182.3M71.5 177.0V180.6M74.5 177.5V182.2M75.5 164.9V185.8M76.5 174.1V180.5M77.5 177.2V183.6M78.5 176.9V185.9M79.5 174.7V189.1M81.5 177.5V182.3M82.5 171.1V195.8M83.5 178.3V185.7M84.5 177.6V183.7M85.5 173.7V184.4M86.5 178.3V183.2M88.5 172.2V190.7M89.5 177.0V182.9M90.5 177.0V183.7M91.5 178.7V181.3M92.5 176.9V182.1M95.5 168.4V189.6M96.5 176.8V184.4M97.5 178.3V184.7M98.5 180.3V185.0M99.5 178.9V181.4M103.5 164.1V194.3M104.5 177.3V182.6M105.5 175.9V183.4M106.5 177.1V188.4M107.5 180.3V186.0M109.5 180.2V185.2M110.5 176.1V186.5M111.5 176.0V183.6M112.5 176.3V182.1M113.5 177.5V181.1M114.5 177.1V181.8M116.5 168.4V199.6M117.5 175.9V186.6M118.5 177.1V183.6M120.5 179.4V183.8M122.5 178.8V180.6M124.5 172.0V192.1M125.5 179.2V185.2M126.5 178.7V183.0M127.5 177.0V182.1M128.5 173.9V179.2M130.5 180.5V183.4M131.5 174.2V197.4M132.5 171.0V189.8M133.5 180.0V186.9M134.5 180.5V187.9M135.5 178.3V186.0M137.5 177.3V199.7M138.5 178.0V189.4M140.5 177.9V183.6M141.5 173.1V184.0M142.5 175.1V180.7M143.5 175.6V181.9M144.5 172.8V190.1M145.5 178.5V188.4M146.5 180.2V182.4M147.5 180.3V182.1M148.5 178.3V181.4M150.5 176.7V179.8M151.5 169.5V189.2M152.5 178.1V183.2M153.5 177.5V186.6M154.5 178.1V184.3M158.5 174.9V188.6M159.5 169.6V186.4M160.5 170.7V186.3M161.5 174.8V182.5M164.5 174.0V199.8M165.5 178.0V192.5M166.5 178.7V185.2M168.5 178.3V187.8M169.5 178.4V181.5M170.5 178.7V180.2M171.5 160.7V199.8M172.5 176.3V184.7M173.5 177.3V187.2M174.5 175.9V183.4M177.5 172.1V179.8M178.5 164.3V190.7M179.5 173.4V184.4M181.5 174.7V180.9M184.5 173.9V191.6M186.5 177.1V186.9M187.5 176.0V186.4M190.5 176.4V180.2M191.5 172.2V185.8M192.5 175.9V181.0M193.5 179.4V184.0M195.5 178.2V184.1M198.5 174.1V190.1M199.5 178.4V184.3M200.5 178.1V183.6M202.5 181.0V189.8M203.5 173.4V184.0M205.5 176.2V191.2M206.5 177.0V182.3M207.5 179.5V185.2M208.5 180.0V182.7M209.5 179.1V181.2M211.5 178.2V180.3M212.5 165.3V191.9M213.5 172.7V185.4M214.5 176.6V182.1M215.5 178.8V182.7M217.5 172.2V178.7M219.5 176.1V198.7M220.5 177.1V185.0M221.5 179.1V188.2M223.5 179.1V184.0M224.5 176.8V180.8M225.5 175.2V188.2M226.5 177.9V185.1M227.5 176.9V183.0M228.5 175.4V181.0M229.5 176.5V179.5M230.5 172.5V189.9M232.5 168.8V190.6M233.5 172.9V187.0M234.5 180.1V184.2M235.5 178.2V185.4M236.5 180.6V185.1M237.5 178.6V182.8M239.5 174.8V191.6M240.5 180.5V190.4M241.5 176.6V181.7M242.5 176.8V181.7M243.5 177.7V181.8M245.5 177.0V182.5M246.5 169.1V195.7M247.5 174.5V190.1M248.5 177.5V183.9M249.5 175.2V182.3M250.5 177.8V184.4M251.5 175.1V181.2M253.5 173.8V199.0M254.5 178.6V184.9M256.5 178.6V183.9M257.5 180.4V183.0M258.5 177.5V181.9M259.5 178.3V184.8M260.5 176.4V199.6M261.5 180.1V189.3M262.5 178.3V183.3M263.5 179.9V185.0M264.5 179.6V182.2M267.5 166.1V199.4M269.5 177.2V188.8M271.5 179.4V185.0M273.5 173.7V188.9M274.5 176.6V186.5M275.5 177.4V184.0M276.5 177.6V183.9M277.5 178.7V184.6M280.5 173.2V185.2M281.5 175.0V180.4M282.5 178.7V187.3M284.5 177.6V183.2M287.5 171.6V184.8M289.5 176.4V189.1M290.5 176.7V188.6M292.5 179.1V183.6M294.5 172.5V184.9M296.5 176.0V179.4M297.5 178.1V182.2M300.5 178.2V182.8M301.5 165.8V193.2M302.5 175.2V187.6M303.5 173.6V183.3M305.5 177.5V186.9M308.5 167.5V186.6M309.5 173.8V179.8M315.5 167.8V195.2M316.5 174.7V185.3M317.5 174.7V186.1M318.5 179.2V183.9M319.5 179.9V184.4M321.5 173.9V194.2M322.5 178.9V184.6M323.5 178.9V186.0M324.5 178.5V184.1M325.5 177.9V185.5M326.5 179.0V184.2M328.5 166.8V198.2M329.5 173.4V188.3M330.5 177.7V187.4" stroke="#2020ff" stroke-width="0.85" fill="none"/>
<polyline points="57.5,179.7 58.5,179.2 59.5,181.7 60.5,183.1 61.5,183.6 62.5,182.7 63.5,181.5 64.5,179.6 65.5,177.1 66.5,181.0 67.5,174.7 68.5,182.5 69.5,178.8 70.5,178.5 71.5,181.8 72.5,180.4 73.5,179.2 74.5,182.8 75.5,185.1 76.5,180.1 77.5,179.5 78.5,186.8 79.5,183.4 80.5,176.8 81.5,179.3 82.5,179.9 83.5,176.6 84.5,181.3 85.5,172.8 86.5,180.7 87.5,183.0 88.5,183.7 89.5,178.0 90.5,183.1 91.5,178.5 92.5,182.1 93.5,185.9 94.5,182.2 95.5,177.8 96.5,179.0 97.5,183.7 98.5,181.7 99.5,181.1 100.5,182.2 101.5,177.9 102.5,182.8 103.5,184.7 104.5,184.2 105.5,181.2 106.5,182.9 107.5,178.9 108.5,179.5 109.5,178.8 110.5,179.1 111.5,176.0 112.5,174.8 113.5,180.1 114.5,178.9 115.5,182.3 116.5,182.7 117.5,176.2 118.5,180.9 119.5,182.9 120.5,182.1 121.5,182.6 122.5,179.8 123.5,181.0 124.5,181.4 125.5,178.5 126.5,181.1 127.5,178.6 128.5,173.8 129.5,178.4 130.5,180.4 131.5,184.5 132.5,180.2 133.5,180.2 134.5,177.4 135.5,178.1 136.5,177.5 137.5,183.1 138.5,178.0 139.5,179.1 140.5,178.7 141.5,180.1 142.5,174.9 143.5,184.0 144.5,180.6 145.5,180.2 146.5,180.6 147.5,181.6 148.5,180.2 149.5,179.2 150.5,179.9 151.5,180.3 152.5,179.8 153.5,183.2 154.5,184.5 155.5,182.9 156.5,178.6 157.5,180.5 158.5,175.5 159.5,182.4 160.5,178.2 161.5,182.7 162.5,184.4 163.5,181.0 164.5,177.9 165.5,180.2 166.5,184.2 167.5,179.3 168.5,182.7 169.5,179.2 170.5,181.1 171.5,180.7 172.5,184.4 173.5,182.6 174.5,185.4 175.5,177.6 176.5,176.7 177.5,178.3 178.5,181.2 179.5,185.1 180.5,182.5 181.5,181.7 182.5,182.7 183.5,179.6 184.5,185.9 185.5,183.4 186.5,174.7 187.5,180.1 188.5,181.3 189.5,180.4 190.5,174.2 191.5,177.7 192.5,181.5 193.5,183.3 194.5,178.9 195.5,178.7 196.5,182.4 197.5,183.5 198.5,180.2 199.5,179.3 200.5,180.5 201.5,181.7 202.5,177.9 203.5,177.1 204.5,178.0 205.5,182.6 206.5,181.3 207.5,185.9 208.5,181.2 209.5,181.0 210.5,178.9 211.5,179.7 212.5,181.6 213.5,177.3 214.5,176.4 215.5,182.2 216.5,176.8 217.5,177.1 218.5,183.4 219.5,177.4 220.5,180.6 221.5,183.4 222.5,180.6 223.5,179.1 224.5,180.8 225.5,181.8 226.5,183.2 227.5,178.4 228.5,180.8 229.5,179.5 230.5,176.6 231.5,179.7 232.5,177.9 233.5,179.5 234.5,181.3 235.5,183.8 236.5,182.2 237.5,181.5 238.5,184.5 239.5,177.9 240.5,192.6 241.5,178.7 242.5,179.6 243.5,179.8 244.5,182.0 245.5,181.0 246.5,180.8 247.5,177.7 248.5,178.6 249.5,177.4 250.5,176.3 251.5,183.3 252.5,179.4 253.5,180.5 254.5,180.2 255.5,180.5 256.5,179.8 257.5,179.8 258.5,179.1 259.5,176.5 260.5,180.8 261.5,178.9 262.5,181.9 263.5,178.7 264.5,179.9 265.5,179.7 266.5,178.5 267.5,175.2 268.5,180.8 269.5,183.3 270.5,180.9 271.5,178.7 272.5,181.1 273.5,185.7 274.5,183.0 275.5,184.4 276.5,183.9 277.5,184.8 278.5,183.4 279.5,180.7 280.5,179.5 281.5,179.8 282.5,182.0 283.5,183.4 284.5,179.6 285.5,184.4 286.5,182.1 287.5,179.1 288.5,177.2 289.5,179.6 290.5,184.7 291.5,183.6 292.5,180.6 293.5,177.7 294.5,182.6 295.5,179.0 296.5,178.4 297.5,181.0 298.5,180.7 299.5,179.5 300.5,181.5 301.5,180.9 302.5,180.6 303.5,173.2 304.5,179.7 305.5,178.6 306.5,181.0 307.5,182.2 308.5,183.5 309.5,180.4 310.5,181.4 311.5,180.8 312.5,181.4 313.5,180.6 314.5,182.8 315.5,189.0 316.5,181.3 317.5,177.7 318.5,183.9 319.5,180.5 320.5,180.0 321.5,179.2 322.5,183.1 323.5,178.2 324.5,181.5 325.5,181.3 326.5,185.8 327.5,178.0 328.5,179.2 329.5,188.0 330.5,182.1" fill="none" stroke="#00f" stroke-width="0.3"/>
</g>
<rect x="56.5" y="148.5" width="274.5" height="64.7" fill="none" stroke="#404040" stroke-width="1"/>
<path d="M111.4 148.5v3M111.4 213.2v-3M166.3 148.5v3M166.3 213.2v-3M221.2 148.5v3M221.2 213.2v-3M276.1 148.5v3M276.1 213.2v-3M56.5 180.8h3M331 180.8h-3" stroke="#404040" stroke-width="1" fill="none"/>
<text x="51.5" y="154.1" text-anchor="end" font-size="16">2</text>
<text x="51.5" y="186.4" text-anchor="end" font-size="16">0</text>
<text x="51.5" y="218.8" text-anchor="end" font-size="16">-2</text>
<text x="192.6" y="137.3" text-anchor="middle" font-size="16" textLength="102.5" lengthAdjust="spacing">Inner race fault</text>
<clipPath id="cr1"><rect x="418.0" y="148.5" width="275.5" height="64.69999999999999"/></clipPath>
<g clip-path="url(#cr1)">
<polyline points="418.5,207.8 419.0,210.5 419.5,207.4 420.0,209.1 420.5,208.5 421.0,209.6 421.5,210.7 422.0,211.2 422.5,209.9 423.0,209.8 423.5,211.3 424.0,208.8 424.5,209.5 425.0,210.8 425.5,209.6 426.0,210.4 426.8,206.9 427.5,208.6 428.0,208.9 428.5,210.4 429.0,209.4 429.5,209.7 430.0,209.8 430.5,211.4 431.0,207.4 431.5,209.4 432.0,210.1 432.5,209.4 433.0,205.0 433.6,196.0 434.0,201.3 434.5,207.4 435.0,207.9 435.5,209.9 436.0,207.6 436.5,208.3 437.0,207.5 437.5,211.0 438.0,211.1 438.5,209.4 439.0,208.7 439.5,208.6 440.0,211.2 440.5,206.5 441.0,211.0 441.5,208.5 442.0,210.5 442.5,211.0 443.0,209.6 443.5,208.6 444.0,208.8 444.5,208.6 445.0,201.2 445.4,194.1 445.9,202.9 446.4,209.7 446.9,209.9 447.4,209.6 447.9,208.2 448.4,208.6 448.9,208.4 449.4,210.7 449.9,208.5 450.4,208.5 450.9,209.2 451.3,206.9 451.9,207.2 452.4,210.1 452.9,209.8 453.4,211.1 453.9,209.4 454.4,207.7 454.9,209.8 455.4,207.7 455.9,210.9 456.4,210.8 456.9,211.0 457.4,208.1 457.9,211.3 458.4,208.8 458.9,211.1 459.4,207.4 459.9,210.3 460.4,207.5 460.9,210.5 461.4,191.8 462.0,168.0 462.4,185.3 462.8,199.2 463.4,205.0 463.9,209.4 464.4,210.8 464.9,210.6 465.4,206.9 465.9,208.8 466.4,210.7 466.9,209.4 467.4,208.7 467.9,210.7 468.4,209.3 468.9,208.9 469.4,207.9 469.9,208.7 470.4,208.1 470.9,208.0 471.4,209.2 471.9,210.7 472.4,211.2 472.9,211.1 473.4,208.8 473.9,210.4 474.4,210.9 474.9,210.8 475.4,209.9 475.9,208.6 476.4,209.2 477.0,203.0 477.4,207.0 477.9,209.2 478.5,203.0 478.9,207.0 479.4,209.7 479.9,209.6 480.4,209.3 480.9,209.4 481.4,210.1 481.9,209.8 482.4,207.6 482.9,207.9 483.4,210.6 483.9,206.1 484.4,209.5 484.9,210.0 485.4,209.7 485.9,207.8 486.4,210.5 486.9,208.0 487.4,206.9 487.9,209.1 488.4,209.4 488.9,206.2 489.5,198.6 489.9,203.1 490.4,209.2 490.9,208.4 491.4,210.0 491.9,211.3 492.4,207.7 492.9,208.8 493.4,209.9 493.9,211.1 494.4,207.7 494.9,210.7 495.4,207.8 495.9,210.3 496.4,208.6 496.9,210.4 497.4,208.8 497.9,211.0 498.4,209.9 498.9,209.3 499.4,208.8 499.9,209.7 500.4,209.5 500.9,209.8 501.3,210.2 501.8,207.3 502.3,210.2 502.8,210.0 503.3,210.2 503.8,210.3 504.3,211.5 504.8,208.6 505.3,210.6 505.8,205.7 506.4,200.0 506.8,204.5 507.3,209.5 507.8,208.3 508.3,207.8 508.8,209.8 509.3,207.1 509.8,208.3 510.3,209.6 510.8,208.6 511.3,209.4 511.8,210.4 512.3,209.0 512.8,211.3 513.3,210.3 513.8,208.6 514.3,210.2 514.8,207.4 515.3,209.7 515.8,210.8 516.3,209.5 516.8,207.2 517.3,209.7 517.8,208.2 518.3,209.3 518.8,209.8 519.3,209.4 519.8,211.0 520.3,209.5 520.8,209.4 521.3,210.1 521.8,209.8 522.3,210.0 522.8,206.9 523.3,210.1 523.8,209.5 524.3,208.8 524.8,209.7 525.3,209.1 525.8,210.0 526.3,209.8 526.8,209.7 527.3,211.5 527.8,208.7 528.3,210.3 528.8,210.9 529.3,210.2 529.8,207.0 530.3,208.5 530.8,210.3 531.3,210.6 531.8,210.2 532.3,209.8 532.8,210.0 533.3,210.4 533.8,209.2 534.3,208.9 535.0,207.0 535.8,209.9 536.3,210.1 536.8,209.2 537.3,209.6 537.8,210.5 538.3,208.9 538.8,209.4 539.3,210.0 539.8,210.0 540.3,208.4 540.8,210.0 541.3,209.0 541.8,208.9 542.3,209.8 542.8,208.5 543.3,209.0 543.8,208.8 544.3,208.6 544.8,210.0 545.3,211.5 545.8,211.3 546.3,210.9 546.8,210.4 547.3,206.8 547.8,209.7 548.3,208.9 548.8,210.4 549.3,208.8 549.8,209.5 550.3,208.2 551.0,203.9 551.8,208.3 552.3,207.3 552.8,210.3 553.3,209.4 553.8,209.8 554.3,209.7 554.8,209.7 555.3,209.1 555.8,210.0 556.2,210.3 556.7,210.0 557.2,210.3 557.7,210.2 558.2,210.5 558.7,207.3 559.2,210.3 559.7,209.3 560.2,209.0 560.7,209.6 561.2,209.6 561.7,210.8 562.2,210.2 562.7,209.3 563.2,210.0 563.7,210.2 564.2,210.4 564.7,211.2 565.2,208.3 565.7,207.3 566.2,207.9 566.7,207.5 567.3,209.0 567.7,208.7 568.2,208.5 568.7,208.8 569.2,209.9 569.7,208.1 570.2,210.6 570.7,208.6 571.2,210.8 571.7,209.8 572.2,208.6 572.7,209.2 573.2,209.2 573.7,209.0 574.2,210.6 574.7,209.8 575.2,208.1 575.7,208.6 576.2,209.5 576.7,209.5 577.2,210.6 577.7,208.8 578.2,210.1 578.7,208.5 579.2,209.1 579.7,210.5 580.2,210.5 580.7,209.8 581.2,211.0 581.7,210.0 582.2,210.0 582.7,210.3 583.2,209.9 583.7,208.4 584.2,210.5 584.7,211.2 585.2,209.5 585.7,211.0 586.2,210.9 586.7,210.4 587.2,210.5 587.7,209.4 588.2,210.7 588.7,209.4 589.2,209.3 589.7,210.7 590.2,211.1 590.7,210.4 591.2,209.4 591.7,210.6 592.2,205.3 592.7,208.1 593.2,208.0 593.7,209.9 594.2,211.0 594.7,209.6 595.2,210.7 595.7,210.5 596.2,210.3 596.7,208.2 597.2,210.7 597.7,209.8 598.2,207.8 598.7,208.0 599.2,208.0 599.7,207.9 600.2,210.8 600.7,210.5 601.2,210.4 601.7,211.0 602.2,208.7 602.7,210.5 603.2,211.0 603.7,209.9 604.2,210.7 604.7,209.8 605.2,209.9 605.7,209.6 606.2,209.8 606.7,209.8 607.2,210.9 607.7,210.6 608.2,208.6 608.7,210.0 609.2,209.3 609.7,210.0 610.2,209.3 610.6,209.8 611.1,209.6 611.6,209.5 612.4,203.3 613.1,208.2 613.6,210.3 614.1,207.1 614.6,210.4 615.1,211.0 615.6,210.0 616.1,210.9 616.6,209.8 617.1,209.9 617.6,208.9 618.1,209.8 618.6,208.6 619.1,209.8 619.6,210.0 620.1,210.8 620.6,208.0 621.1,208.7 621.6,209.9 622.1,209.5 622.6,208.0 623.0,209.0 623.6,209.8 624.1,209.9 624.6,209.5 625.1,210.0 625.6,206.9 626.1,209.8 626.6,210.8 627.1,208.6 627.6,208.6 628.1,210.4 628.6,209.5 629.1,210.7 629.6,210.8 630.1,209.7 630.6,209.6 631.1,209.8 631.6,210.4 632.1,210.6 632.6,210.0 633.1,208.4 633.6,209.3 634.1,209.1 634.6,207.7 635.1,210.2 635.6,209.3 636.1,211.0 636.6,208.8 637.1,209.1 637.6,207.2 638.1,211.1 638.6,209.9 639.1,210.0 639.6,204.4 640.0,197.2 640.6,207.8 641.1,208.1 641.5,206.2 642.1,209.0 642.6,209.9 643.1,210.3 643.6,210.8 644.1,210.0 644.6,209.9 645.1,209.6 645.6,209.5 646.1,210.0 646.6,208.9 647.1,208.7 647.6,210.6 648.1,209.9 648.6,210.2 649.1,210.3 649.6,208.3 650.1,209.0 650.6,208.6 651.1,210.3 651.6,210.4 652.1,211.5 652.6,208.9 653.1,210.6 653.6,208.5 654.1,209.8 654.6,210.4 655.1,208.0 655.6,206.9 656.0,203.3 656.6,206.8 657.1,210.8 657.6,209.9 658.1,211.3 658.6,209.9 659.1,209.0 659.6,209.3 660.1,207.5 660.6,211.0 661.1,210.6 661.6,209.7 662.1,210.2 662.6,209.8 663.1,207.9 663.6,210.6 664.1,211.2 664.6,210.4 665.1,210.1 665.5,209.2 666.0,208.6 666.5,209.7 667.0,209.2 667.5,209.5 668.0,207.8 668.5,204.5 669.0,208.4 669.5,210.9 670.0,210.0 670.5,209.6 671.0,209.0 671.5,210.2 672.0,208.7 672.5,209.9 673.0,209.5 673.5,209.8 674.0,210.6 674.5,208.2 675.0,210.6 675.5,210.4 676.0,209.1 676.5,209.3 677.0,209.7 677.5,209.1 678.0,209.8 678.5,210.5 679.0,208.5 679.5,209.9 680.0,210.6 680.5,208.8 681.0,211.2 681.5,210.5 682.0,208.9 682.5,210.7 683.0,209.9 683.5,210.1 684.0,207.2 684.5,209.5 685.0,207.3 685.6,196.3 686.0,204.1 686.5,209.8 687.0,209.4 687.5,209.4 688.0,210.4 688.5,208.7 689.0,209.3 689.5,209.9 690.0,210.1 690.5,208.8 691.0,208.4 691.5,210.8 692.0,209.8 692.5,209.3 693.0,207.6" fill="none" stroke="#00f" stroke-width="0.7" stroke-linejoin="round"/>
</g>
<rect x="418" y="148.5" width="275.5" height="64.7" fill="none" stroke="#404040" stroke-width="1"/>
<path d="M473.1 148.5v3M473.1 213.2v-3M528.2 148.5v3M528.2 213.2v-3M583.3 148.5v3M583.3 213.2v-3M638.4 148.5v3M638.4 213.2v-3M418 180.8h3M693.5 180.8h-3" stroke="#404040" stroke-width="1" fill="none"/>
<text x="412.5" y="154.5" text-anchor="end" font-size="16">0.2</text>
<text x="412.5" y="186.8" text-anchor="end" font-size="16">0.1</text>
<text x="412.5" y="219.2" text-anchor="end" font-size="16">0</text>
<clipPath id="cl2"><rect x="56.5" y="270.5" width="274.5" height="64.39999999999998"/></clipPath>
<g clip-path="url(#cl2)">
<polygon points="57.0,299.6 58.0,299.6 58.0,300.1 59.0,300.1 59.0,299.4 60.0,299.4 60.0,300.8 61.0,300.8 61.0,300.5 62.0,300.5 62.0,299.9 63.0,299.9 63.0,292.0 64.0,292.0 64.0,297.7 65.0,297.7 65.0,296.5 66.0,296.5 66.0,297.9 67.0,297.9 67.0,298.6 68.0,298.6 68.0,300.1 69.0,300.1 69.0,299.8 70.0,299.8 70.0,299.7 71.0,299.7 71.0,299.9 72.0,299.9 72.0,299.7 73.0,299.7 73.0,293.7 74.0,293.7 74.0,296.5 75.0,296.5 75.0,298.0 76.0,298.0 76.0,298.5 77.0,298.5 77.0,299.7 78.0,299.7 78.0,300.2 79.0,300.2 79.0,300.4 80.0,300.4 80.0,299.9 81.0,299.9 81.0,300.4 82.0,300.4 82.0,299.6 83.0,299.6 83.0,286.9 84.0,286.9 84.0,290.5 85.0,290.5 85.0,293.3 86.0,293.3 86.0,295.6 87.0,295.6 87.0,298.9 88.0,298.9 88.0,300.4 89.0,300.4 89.0,298.9 90.0,298.9 90.0,300.0 91.0,300.0 91.0,300.2 92.0,300.2 92.0,299.3 93.0,299.3 93.0,299.9 94.0,299.9 94.0,289.5 95.0,289.5 95.0,291.7 96.0,291.7 96.0,297.2 97.0,297.2 97.0,297.4 98.0,297.4 98.0,299.6 99.0,299.6 99.0,300.0 100.0,300.0 100.0,299.7 101.0,299.7 101.0,299.7 102.0,299.7 102.0,299.4 103.0,299.4 103.0,300.4 104.0,300.4 104.0,300.4 105.0,300.4 105.0,282.3 106.0,282.3 106.0,287.9 107.0,287.9 107.0,294.5 108.0,294.5 108.0,294.3 109.0,294.3 109.0,296.8 110.0,296.8 110.0,300.1 111.0,300.1 111.0,300.7 112.0,300.7 112.0,300.2 113.0,300.2 113.0,299.9 114.0,299.9 114.0,299.9 115.0,299.9 115.0,300.4 116.0,300.4 116.0,289.1 117.0,289.1 117.0,293.8 118.0,293.8 118.0,294.2 119.0,294.2 119.0,296.4 120.0,296.4 120.0,299.2 121.0,299.2 121.0,300.3 122.0,300.3 122.0,300.1 123.0,300.1 123.0,300.5 124.0,300.5 124.0,299.7 125.0,299.7 125.0,299.8 126.0,299.8 126.0,284.5 127.0,284.5 127.0,289.4 128.0,289.4 128.0,292.2 129.0,292.2 129.0,297.2 130.0,297.2 130.0,297.1 131.0,297.1 131.0,299.2 132.0,299.2 132.0,300.2 133.0,300.2 133.0,299.7 134.0,299.7 134.0,299.3 135.0,299.3 135.0,299.7 136.0,299.7 136.0,301.0 137.0,301.0 137.0,292.0 138.0,292.0 138.0,294.7 139.0,294.7 139.0,298.1 140.0,298.1 140.0,298.1 141.0,298.1 141.0,299.7 142.0,299.7 142.0,300.0 143.0,300.0 143.0,301.0 144.0,301.0 144.0,299.3 145.0,299.3 145.0,299.9 146.0,299.9 146.0,299.8 147.0,299.8 147.0,285.9 148.0,285.9 148.0,292.3 149.0,292.3 149.0,294.5 150.0,294.5 150.0,294.7 151.0,294.7 151.0,296.6 152.0,296.6 152.0,300.1 153.0,300.1 153.0,300.0 154.0,300.0 154.0,300.2 155.0,300.2 155.0,300.3 156.0,300.3 156.0,300.2 157.0,300.2 157.0,300.2 158.0,300.2 158.0,289.0 159.0,289.0 159.0,292.6 160.0,292.6 160.0,294.6 161.0,294.6 161.0,297.2 162.0,297.2 162.0,298.2 163.0,298.2 163.0,299.9 164.0,299.9 164.0,299.8 165.0,299.8 165.0,299.7 166.0,299.7 166.0,300.2 167.0,300.2 167.0,300.3 168.0,300.3 168.0,300.7 169.0,300.7 169.0,282.3 170.0,282.3 170.0,285.7 171.0,285.7 171.0,296.2 172.0,296.2 172.0,297.3 173.0,297.3 173.0,297.3 174.0,297.3 174.0,300.0 175.0,300.0 175.0,299.9 176.0,299.9 176.0,299.5 177.0,299.5 177.0,299.7 178.0,299.7 178.0,298.9 179.0,298.9 179.0,284.2 180.0,284.2 180.0,291.1 181.0,291.1 181.0,296.3 182.0,296.3 182.0,295.5 183.0,295.5 183.0,297.2 184.0,297.2 184.0,299.0 185.0,299.0 185.0,300.0 186.0,300.0 186.0,300.4 187.0,300.4 187.0,300.5 188.0,300.5 188.0,300.3 189.0,300.3 189.0,285.5 190.0,285.5 190.0,291.0 191.0,291.0 191.0,292.7 192.0,292.7 192.0,297.6 193.0,297.6 193.0,297.8 194.0,297.8 194.0,300.2 195.0,300.2 195.0,300.1 196.0,300.1 196.0,299.7 197.0,299.7 197.0,300.6 198.0,300.6 198.0,300.0 199.0,300.0 199.0,294.5 200.0,294.5 200.0,296.7 201.0,296.7 201.0,297.7 202.0,297.7 202.0,299.1 203.0,299.1 203.0,299.4 204.0,299.4 204.0,299.6 205.0,299.6 205.0,299.9 206.0,299.9 206.0,300.9 207.0,300.9 207.0,300.3 208.0,300.3 208.0,299.6 209.0,299.6 209.0,292.0 210.0,292.0 210.0,294.0 211.0,294.0 211.0,295.9 212.0,295.9 212.0,297.6 213.0,297.6 213.0,299.7 214.0,299.7 214.0,299.5 215.0,299.5 215.0,300.1 216.0,300.1 216.0,299.3 217.0,299.3 217.0,300.6 218.0,300.6 218.0,300.7 219.0,300.7 219.0,300.5 220.0,300.5 220.0,293.2 221.0,293.2 221.0,297.3 222.0,297.3 222.0,298.7 223.0,298.7 223.0,299.2 224.0,299.2 224.0,298.9 225.0,298.9 225.0,300.0 226.0,300.0 226.0,300.0 227.0,300.0 227.0,300.1 228.0,300.1 228.0,300.6 229.0,300.6 229.0,299.0 230.0,299.0 230.0,289.0 231.0,289.0 231.0,291.4 232.0,291.4 232.0,294.0 233.0,294.0 233.0,297.1 234.0,297.1 234.0,297.7 235.0,297.7 235.0,300.2 236.0,300.2 236.0,299.8 237.0,299.8 237.0,300.3 238.0,300.3 238.0,299.5 239.0,299.5 239.0,300.1 240.0,300.1 240.0,290.6 241.0,290.6 241.0,294.5 242.0,294.5 242.0,298.5 243.0,298.5 243.0,298.3 244.0,298.3 244.0,298.9 245.0,298.9 245.0,300.4 246.0,300.4 246.0,300.3 247.0,300.3 247.0,299.8 248.0,299.8 248.0,300.2 249.0,300.2 249.0,299.8 250.0,299.8 250.0,300.2 251.0,300.2 251.0,284.0 252.0,284.0 252.0,291.0 253.0,291.0 253.0,293.9 254.0,293.9 254.0,295.6 255.0,295.6 255.0,296.7 256.0,296.7 256.0,300.5 257.0,300.5 257.0,299.5 258.0,299.5 258.0,299.7 259.0,299.7 259.0,300.0 260.0,300.0 260.0,299.4 261.0,299.4 261.0,285.9 262.0,285.9 262.0,288.6 263.0,288.6 263.0,296.4 264.0,296.4 264.0,295.7 265.0,295.7 265.0,296.9 266.0,296.9 266.0,300.5 267.0,300.5 267.0,299.8 268.0,299.8 268.0,299.4 269.0,299.4 269.0,300.1 270.0,300.1 270.0,299.7 271.0,299.7 271.0,300.3 272.0,300.3 272.0,290.9 273.0,290.9 273.0,293.0 274.0,293.0 274.0,297.4 275.0,297.4 275.0,298.4 276.0,298.4 276.0,298.5 277.0,298.5 277.0,300.3 278.0,300.3 278.0,300.3 279.0,300.3 279.0,299.8 280.0,299.8 280.0,299.5 281.0,299.5 281.0,300.3 282.0,300.3 282.0,295.0 283.0,295.0 283.0,296.7 284.0,296.7 284.0,298.7 285.0,298.7 285.0,299.2 286.0,299.2 286.0,299.6 287.0,299.6 287.0,299.7 288.0,299.7 288.0,300.0 289.0,300.0 289.0,300.1 290.0,300.1 290.0,299.9 291.0,299.9 291.0,300.7 292.0,300.7 292.0,299.8 293.0,299.8 293.0,292.0 294.0,292.0 294.0,295.0 295.0,295.0 295.0,296.2 296.0,296.2 296.0,298.5 297.0,298.5 297.0,298.8 298.0,298.8 298.0,299.5 299.0,299.5 299.0,300.3 300.0,300.3 300.0,300.6 301.0,300.6 301.0,299.8 302.0,299.8 302.0,294.8 303.0,294.8 303.0,298.1 304.0,298.1 304.0,298.0 305.0,298.0 305.0,298.8 306.0,298.8 306.0,299.7 307.0,299.7 307.0,300.2 308.0,300.2 308.0,300.4 309.0,300.4 309.0,300.8 310.0,300.8 310.0,300.3 311.0,300.3 311.0,300.3 312.0,300.3 312.0,299.9 313.0,299.9 313.0,282.7 314.0,282.7 314.0,288.1 315.0,288.1 315.0,295.3 316.0,295.3 316.0,297.6 317.0,297.6 317.0,297.0 318.0,297.0 318.0,300.9 319.0,300.9 319.0,300.5 320.0,300.5 320.0,300.0 321.0,300.0 321.0,300.2 322.0,300.2 322.0,299.9 323.0,299.9 323.0,294.4 324.0,294.4 324.0,296.6 325.0,296.6 325.0,298.8 326.0,298.8 326.0,298.9 327.0,298.9 327.0,300.1 328.0,300.1 328.0,299.5 329.0,299.5 329.0,300.2 330.0,300.2 330.0,300.7 331.0,300.7 331.0,301.9 330.0,301.9 330.0,302.4 329.0,302.4 329.0,302.8 328.0,302.8 328.0,302.7 327.0,302.7 327.0,303.1 326.0,303.1 326.0,303.1 325.0,303.1 325.0,305.1 324.0,305.1 324.0,307.0 323.0,307.0 323.0,302.8 322.0,302.8 322.0,301.9 321.0,301.9 321.0,301.8 320.0,301.8 320.0,302.6 319.0,302.6 319.0,303.1 318.0,303.1 318.0,304.7 317.0,304.7 317.0,304.2 316.0,304.2 316.0,306.1 315.0,306.1 315.0,312.1 314.0,312.1 314.0,316.5 313.0,316.5 313.0,301.9 312.0,301.9 312.0,302.6 311.0,302.6 311.0,302.5 310.0,302.5 310.0,302.9 309.0,302.9 309.0,302.3 308.0,302.3 308.0,302.3 307.0,302.3 307.0,302.9 306.0,302.9 306.0,303.8 305.0,303.8 305.0,304.7 304.0,304.7 304.0,304.6 303.0,304.6 303.0,308.1 302.0,308.1 302.0,302.2 301.0,302.2 301.0,302.7 300.0,302.7 300.0,302.0 299.0,302.0 299.0,301.6 298.0,301.6 298.0,303.8 297.0,303.8 297.0,304.0 296.0,304.0 296.0,306.5 295.0,306.5 295.0,307.8 294.0,307.8 294.0,310.9 293.0,310.9 293.0,303.0 292.0,303.0 292.0,301.8 291.0,301.8 291.0,302.5 290.0,302.5 290.0,302.6 289.0,302.6 289.0,302.9 288.0,302.9 288.0,302.3 287.0,302.3 287.0,303.7 286.0,303.7 286.0,304.4 285.0,304.4 285.0,305.2 284.0,305.2 284.0,308.3 283.0,308.3 283.0,311.0 282.0,311.0 282.0,302.9 281.0,302.9 281.0,302.5 280.0,302.5 280.0,302.4 279.0,302.4 279.0,301.9 278.0,301.9 278.0,302.0 277.0,302.0 277.0,303.6 276.0,303.6 276.0,303.7 275.0,303.7 275.0,304.6 274.0,304.6 274.0,308.5 273.0,308.5 273.0,310.4 272.0,310.4 272.0,301.6 271.0,301.6 271.0,302.4 270.0,302.4 270.0,302.2 269.0,302.2 269.0,302.5 268.0,302.5 268.0,302.4 267.0,302.4 267.0,302.4 266.0,302.4 266.0,304.6 265.0,304.6 265.0,305.5 264.0,305.5 264.0,304.9 263.0,304.9 263.0,311.0 262.0,311.0 262.0,313.1 261.0,313.1 261.0,302.9 260.0,302.9 260.0,302.3 259.0,302.3 259.0,302.0 258.0,302.0 258.0,302.4 257.0,302.4 257.0,302.8 256.0,302.8 256.0,304.0 255.0,304.0 255.0,304.6 254.0,304.6 254.0,305.6 253.0,305.6 253.0,307.4 252.0,307.4 252.0,311.7 251.0,311.7 251.0,302.2 250.0,302.2 250.0,302.8 249.0,302.8 249.0,302.7 248.0,302.7 248.0,302.2 247.0,302.2 247.0,302.2 246.0,302.2 246.0,301.6 245.0,301.6 245.0,304.1 244.0,304.1 244.0,305.0 243.0,305.0 243.0,304.7 242.0,304.7 242.0,309.7 241.0,309.7 241.0,314.7 240.0,314.7 240.0,302.7 239.0,302.7 239.0,302.4 238.0,302.4 238.0,302.7 237.0,302.7 237.0,302.9 236.0,302.9 236.0,302.7 235.0,302.7 235.0,306.0 234.0,306.0 234.0,306.9 233.0,306.9 233.0,311.1 232.0,311.1 232.0,314.7 231.0,314.7 231.0,318.2 230.0,318.2 230.0,301.8 229.0,301.8 229.0,302.6 228.0,302.6 228.0,302.1 227.0,302.1 227.0,303.0 226.0,303.0 226.0,302.1 225.0,302.1 225.0,303.0 224.0,303.0 224.0,302.4 223.0,302.4 223.0,303.1 222.0,303.1 222.0,304.1 221.0,304.1 221.0,307.3 220.0,307.3 220.0,301.8 219.0,301.8 219.0,303.0 218.0,303.0 218.0,302.5 217.0,302.5 217.0,301.5 216.0,301.5 216.0,302.5 215.0,302.5 215.0,302.1 214.0,302.1 214.0,304.1 213.0,304.1 213.0,307.8 212.0,307.8 212.0,311.1 211.0,311.1 211.0,314.5 210.0,314.5 210.0,318.3 209.0,318.3 209.0,303.1 208.0,303.1 208.0,301.8 207.0,301.8 207.0,302.8 206.0,302.8 206.0,302.4 205.0,302.4 205.0,301.8 204.0,301.8 204.0,303.0 203.0,303.0 203.0,303.3 202.0,303.3 202.0,304.7 201.0,304.7 201.0,305.7 200.0,305.7 200.0,307.8 199.0,307.8 199.0,303.2 198.0,303.2 198.0,302.4 197.0,302.4 197.0,301.7 196.0,301.7 196.0,302.0 195.0,302.0 195.0,302.7 194.0,302.7 194.0,304.2 193.0,304.2 193.0,304.4 192.0,304.4 192.0,308.6 191.0,308.6 191.0,310.1 190.0,310.1 190.0,315.0 189.0,315.0 189.0,303.3 188.0,303.3 188.0,302.4 187.0,302.4 187.0,302.3 186.0,302.3 186.0,302.6 185.0,302.6 185.0,302.7 184.0,302.7 184.0,303.8 183.0,303.8 183.0,304.9 182.0,304.9 182.0,304.4 181.0,304.4 181.0,307.8 180.0,307.8 180.0,312.3 179.0,312.3 179.0,301.6 178.0,301.6 178.0,302.3 177.0,302.3 177.0,302.5 176.0,302.5 176.0,302.4 175.0,302.4 175.0,302.0 174.0,302.0 174.0,303.9 173.0,303.9 173.0,303.9 172.0,303.9 172.0,304.7 171.0,304.7 171.0,311.9 170.0,311.9 170.0,314.3 169.0,314.3 169.0,302.8 168.0,302.8 168.0,303.2 167.0,303.2 167.0,302.4 166.0,302.4 166.0,302.0 165.0,302.0 165.0,301.7 164.0,301.7 164.0,303.2 163.0,303.2 163.0,305.0 162.0,305.0 162.0,306.2 161.0,306.2 161.0,309.5 160.0,309.5 160.0,312.0 159.0,312.0 159.0,316.6 158.0,316.6 158.0,302.2 157.0,302.2 157.0,302.6 156.0,302.6 156.0,302.8 155.0,302.8 155.0,302.5 154.0,302.5 154.0,302.5 153.0,302.5 153.0,301.7 152.0,301.7 152.0,305.3 151.0,305.3 151.0,307.0 150.0,307.0 150.0,307.2 149.0,307.2 149.0,309.2 148.0,309.2 148.0,315.0 147.0,315.0 147.0,302.5 146.0,302.5 146.0,302.3 145.0,302.3 145.0,302.1 144.0,302.1 144.0,302.3 143.0,302.3 143.0,301.8 142.0,301.8 142.0,304.0 141.0,304.0 141.0,307.2 140.0,307.2 140.0,307.1 139.0,307.1 139.0,313.6 138.0,313.6 138.0,318.7 137.0,318.7 137.0,302.6 136.0,302.6 136.0,302.1 135.0,302.1 135.0,301.7 134.0,301.7 134.0,302.8 133.0,302.8 133.0,302.3 132.0,302.3 132.0,302.0 131.0,302.0 131.0,304.6 130.0,304.6 130.0,304.5 129.0,304.5 129.0,308.6 128.0,308.6 128.0,310.9 127.0,310.9 127.0,314.9 126.0,314.9 126.0,302.4 125.0,302.4 125.0,302.4 124.0,302.4 124.0,302.7 123.0,302.7 123.0,302.8 122.0,302.8 122.0,302.5 121.0,302.5 121.0,304.0 120.0,304.0 120.0,308.1 119.0,308.1 119.0,311.3 118.0,311.3 118.0,311.9 117.0,311.9 117.0,318.6 116.0,318.6 116.0,302.6 115.0,302.6 115.0,303.2 114.0,303.2 114.0,302.6 113.0,302.6 113.0,302.9 112.0,302.9 112.0,301.8 111.0,301.8 111.0,302.2 110.0,302.2 110.0,304.5 109.0,304.5 109.0,306.3 108.0,306.3 108.0,306.2 107.0,306.2 107.0,311.1 106.0,311.1 106.0,315.2 105.0,315.2 105.0,302.6 104.0,302.6 104.0,302.5 103.0,302.5 103.0,302.4 102.0,302.4 102.0,302.6 101.0,302.6 101.0,302.3 100.0,302.3 100.0,302.0 99.0,302.0 99.0,302.5 98.0,302.5 98.0,304.3 97.0,304.3 97.0,304.5 96.0,304.5 96.0,308.9 95.0,308.9 95.0,310.7 94.0,310.7 94.0,302.1 93.0,302.1 93.0,302.3 92.0,302.3 92.0,301.7 91.0,301.7 91.0,302.0 90.0,302.0 90.0,302.4 89.0,302.4 89.0,301.8 88.0,301.8 88.0,303.3 87.0,303.3 87.0,306.2 86.0,306.2 86.0,308.4 85.0,308.4 85.0,311.0 84.0,311.0 84.0,314.2 83.0,314.2 83.0,302.5 82.0,302.5 82.0,301.9 81.0,301.9 81.0,301.2 80.0,301.2 80.0,302.3 79.0,302.3 79.0,302.4 78.0,302.4 78.0,303.1 77.0,303.1 77.0,304.7 76.0,304.7 76.0,305.2 75.0,305.2 75.0,307.2 74.0,307.2 74.0,310.7 73.0,310.7 73.0,303.1 72.0,303.1 72.0,302.6 71.0,302.6 71.0,303.2 70.0,303.2 70.0,302.2 69.0,302.2 69.0,302.0 68.0,302.0 68.0,305.4 67.0,305.4 67.0,306.5 66.0,306.5 66.0,308.8 65.0,308.8 65.0,306.8 64.0,306.8 64.0,316.0 63.0,316.0 63.0,302.3 62.0,302.3 62.0,302.8 61.0,302.8 61.0,303.2 60.0,303.2 60.0,302.7 59.0,302.7 59.0,302.3 58.0,302.3 58.0,302.7 57.0,302.7" fill="#aeaefa"/>
<path d="M62.5 300.0V302.0M63.5 292.0V316.0M65.5 297.5V305.3M67.5 300.0V304.9M71.5 300.4V301.8M72.5 300.3V302.3M73.5 293.7V310.7M74.5 297.1V305.4M75.5 299.7V302.8M77.5 300.4V302.4M78.5 300.2V301.8M82.5 299.7V302.1M83.5 286.9V314.2M84.5 293.2V309.2M85.5 293.6V307.8M86.5 298.1V304.1M87.5 299.7V302.1M89.5 299.7V301.3M90.5 300.4V301.8M93.5 300.1V301.6M94.5 289.5V310.7M95.5 293.6V307.7M97.5 297.6V303.2M98.5 299.8V302.1M103.5 300.8V302.0M105.5 282.3V315.2M106.5 291.1V308.9M107.5 297.6V304.4M109.5 299.3V304.1M110.5 300.6V301.9M113.5 300.2V302.4M115.5 300.6V302.3M116.5 289.1V318.6M117.5 293.9V309.6M118.5 297.9V309.4M120.5 300.7V302.8M121.5 300.6V302.2M122.5 300.5V302.5M123.5 301.2V302.0M126.5 284.5V314.9M127.5 292.5V309.9M128.5 297.0V306.4M134.5 299.7V301.6M137.5 292.0V318.7M138.5 295.7V312.8M139.5 300.7V306.6M140.5 299.5V306.7M141.5 300.5V303.2M143.5 301.1V302.1M146.5 299.8V302.2M147.5 285.9V315.0M148.5 292.3V306.5M149.5 296.8V306.3M150.5 296.4V307.0M151.5 299.2V304.4M152.5 300.5V301.6M153.5 300.6V302.0M154.5 300.3V301.8M157.5 300.5V301.8M158.5 289.0V316.6M159.5 296.4V311.7M160.5 296.5V304.6M161.5 299.1V303.9M162.5 299.2V304.4M163.5 300.0V303.2M165.5 300.1V301.7M166.5 300.7V302.1M168.5 301.1V302.4M169.5 282.3V314.3M170.5 286.3V307.2M172.5 299.4V302.2M173.5 299.2V302.0M174.5 300.5V301.4M179.5 284.2V312.3M180.5 291.8V306.4M181.5 296.7V303.8M182.5 295.5V301.4M183.5 297.2V301.9M184.5 299.7V302.1M187.5 301.0V302.2M188.5 300.4V302.9M189.5 285.5V315.0M190.5 291.7V307.0M191.5 296.1V306.9M192.5 297.9V303.0M193.5 298.2V304.0M194.5 301.0V302.1M197.5 300.6V301.9M199.5 294.5V307.8M200.5 297.2V304.6M201.5 299.0V302.4M202.5 300.2V302.4M203.5 299.7V301.6M206.5 301.4V302.4M208.5 299.8V302.8M209.5 292.0V318.3M210.5 296.3V313.3M211.5 296.4V308.7M212.5 299.7V305.3M217.5 300.7V302.3M218.5 301.1V302.7M220.5 293.2V307.3M221.5 297.8V303.1M222.5 298.9V302.9M223.5 299.5V302.3M224.5 299.5V301.6M229.5 299.2V301.6M230.5 289.0V318.2M231.5 291.8V314.6M233.5 297.2V305.4M234.5 298.7V305.0M235.5 300.5V302.4M236.5 300.7V301.9M237.5 301.0V302.1M240.5 290.6V314.7M241.5 296.8V307.7M242.5 300.3V304.4M243.5 298.8V304.5M244.5 300.3V303.4M245.5 300.8V301.5M248.5 300.9V302.7M250.5 300.3V302.1M251.5 284.0V311.7M252.5 291.5V307.2M255.5 296.8V301.9M256.5 300.9V302.0M257.5 300.3V302.4M260.5 299.7V302.1M261.5 285.9V313.1M262.5 289.1V308.9M263.5 296.5V304.4M265.5 298.2V302.7M271.5 300.4V301.2M272.5 290.9V310.4M273.5 293.0V305.8M274.5 298.2V302.6M275.5 300.2V303.6M276.5 298.9V303.4M278.5 300.5V301.8M282.5 295.0V311.0M283.5 297.1V306.1M285.5 300.3V302.5M286.5 300.7V302.4M291.5 301.1V301.8M292.5 300.1V302.5M293.5 292.0V310.9M294.5 295.8V306.4M295.5 299.0V304.9M296.5 299.2V302.8M297.5 299.3V302.6M300.5 301.0V302.3M302.5 294.8V308.1M303.5 299.0V303.9M304.5 298.3V304.7M305.5 299.8V302.4M307.5 300.9V302.1M308.5 300.5V302.0M309.5 300.9V302.8M313.5 282.7V316.5M314.5 290.5V310.3M315.5 296.6V302.3M317.5 297.1V301.7M320.5 300.6V301.4M321.5 300.7V301.3M323.5 294.4V307.0M324.5 297.9V304.7M327.5 300.7V301.8M329.5 300.8V302.2" stroke="#2020ff" stroke-width="0.85" fill="none"/>
<polyline points="57.5,299.8 58.5,301.7 59.5,300.5 60.5,301.0 61.5,302.0 62.5,301.2 63.5,301.3 64.5,301.2 65.5,300.4 66.5,300.6 67.5,299.7 68.5,302.0 69.5,300.8 70.5,301.0 71.5,299.9 72.5,300.8 73.5,302.9 74.5,301.0 75.5,302.7 76.5,302.5 77.5,301.4 78.5,301.3 79.5,301.3 80.5,300.5 81.5,300.9 82.5,302.5 83.5,301.7 84.5,301.4 85.5,300.6 86.5,302.3 87.5,302.0 88.5,300.7 89.5,300.7 90.5,300.5 91.5,301.5 92.5,301.7 93.5,299.9 94.5,301.1 95.5,301.8 96.5,301.3 97.5,301.1 98.5,300.9 99.5,300.0 100.5,301.0 101.5,301.3 102.5,300.7 103.5,301.0 104.5,300.6 105.5,302.3 106.5,300.8 107.5,300.7 108.5,302.0 109.5,302.7 110.5,302.2 111.5,301.6 112.5,300.9 113.5,299.9 114.5,301.4 115.5,302.2 116.5,302.1 117.5,302.3 118.5,302.6 119.5,300.4 120.5,301.5 121.5,300.6 122.5,301.1 123.5,301.2 124.5,301.2 125.5,301.4 126.5,300.8 127.5,300.7 128.5,301.1 129.5,300.5 130.5,301.7 131.5,301.9 132.5,301.6 133.5,302.0 134.5,301.7 135.5,301.4 136.5,301.6 137.5,301.1 138.5,302.5 139.5,300.4 140.5,300.9 141.5,301.7 142.5,301.4 143.5,301.0 144.5,301.5 145.5,301.5 146.5,300.4 147.5,301.7 148.5,301.3 149.5,300.7 150.5,300.4 151.5,301.0 152.5,301.3 153.5,300.3 154.5,302.0 155.5,300.7 156.5,301.4 157.5,300.9 158.5,301.7 159.5,302.1 160.5,302.1 161.5,301.9 162.5,302.0 163.5,302.8 164.5,301.2 165.5,300.7 166.5,300.2 167.5,300.6 168.5,302.7 169.5,302.2 170.5,302.8 171.5,300.5 172.5,300.4 173.5,300.1 174.5,300.5 175.5,302.4 176.5,301.0 177.5,300.0 178.5,300.8 179.5,302.5 180.5,300.6 181.5,301.9 182.5,300.4 183.5,301.3 184.5,300.7 185.5,302.6 186.5,301.3 187.5,301.4 188.5,300.9 189.5,301.4 190.5,301.5 191.5,300.0 192.5,302.5 193.5,302.6 194.5,301.3 195.5,300.9 196.5,300.4 197.5,301.8 198.5,300.0 199.5,301.2 200.5,301.0 201.5,302.0 202.5,300.8 203.5,302.7 204.5,301.8 205.5,302.4 206.5,302.0 207.5,301.5 208.5,300.8 209.5,300.6 210.5,300.5 211.5,301.5 212.5,300.7 213.5,300.3 214.5,300.6 215.5,301.2 216.5,300.3 217.5,301.8 218.5,301.4 219.5,300.5 220.5,301.2 221.5,300.0 222.5,301.5 223.5,301.6 224.5,301.7 225.5,300.3 226.5,300.0 227.5,301.7 228.5,302.6 229.5,301.8 230.5,301.8 231.5,300.7 232.5,301.0 233.5,302.2 234.5,300.9 235.5,300.4 236.5,301.7 237.5,301.4 238.5,299.5 239.5,300.1 240.5,301.9 241.5,301.5 242.5,301.4 243.5,302.0 244.5,300.9 245.5,300.5 246.5,302.2 247.5,301.5 248.5,301.1 249.5,300.9 250.5,300.7 251.5,300.6 252.5,301.0 253.5,300.9 254.5,300.9 255.5,300.6 256.5,301.1 257.5,300.1 258.5,299.8 259.5,300.7 260.5,300.8 261.5,301.2 262.5,301.4 263.5,301.4 264.5,302.8 265.5,300.7 266.5,301.0 267.5,301.0 268.5,301.9 269.5,300.7 270.5,301.9 271.5,301.6 272.5,302.5 273.5,299.8 274.5,299.7 275.5,300.5 276.5,302.7 277.5,301.6 278.5,301.7 279.5,301.8 280.5,300.3 281.5,302.3 282.5,301.3 283.5,300.1 284.5,301.5 285.5,300.4 286.5,301.1 287.5,300.4 288.5,300.0 289.5,302.1 290.5,300.0 291.5,301.3 292.5,300.8 293.5,301.0 294.5,302.2 295.5,300.8 296.5,301.2 297.5,299.8 298.5,301.5 299.5,300.3 300.5,300.6 301.5,299.8 302.5,301.2 303.5,302.2 304.5,301.2 305.5,301.8 306.5,300.5 307.5,300.4 308.5,301.9 309.5,301.5 310.5,301.4 311.5,301.0 312.5,301.5 313.5,300.3 314.5,301.2 315.5,300.7 316.5,300.4 317.5,299.4 318.5,300.9 319.5,301.0 320.5,300.9 321.5,301.2 322.5,299.9 323.5,300.7 324.5,301.2 325.5,300.8 326.5,300.8 327.5,301.3 328.5,299.5 329.5,301.5 330.5,300.7" fill="none" stroke="#00f" stroke-width="0.3"/>
</g>
<rect x="56.5" y="270.5" width="274.5" height="64.4" fill="none" stroke="#404040" stroke-width="1"/>
<path d="M111.4 270.5v3M111.4 334.9v-3M166.3 270.5v3M166.3 334.9v-3M221.2 270.5v3M221.2 334.9v-3M276.1 270.5v3M276.1 334.9v-3M56.5 302.7h3M331 302.7h-3" stroke="#404040" stroke-width="1" fill="none"/>
<text x="51.5" y="276.1" text-anchor="end" font-size="16">5</text>
<text x="51.5" y="308.3" text-anchor="end" font-size="16">0</text>
<text x="51.5" y="340.5" text-anchor="end" font-size="16">-5</text>
<text x="192.7" y="259.2" text-anchor="middle" font-size="16" textLength="104.5" lengthAdjust="spacing">Outer race fault</text>
<clipPath id="cr2"><rect x="418.0" y="270.5" width="275.5" height="64.39999999999998"/></clipPath>
<g clip-path="url(#cr2)">
<polyline points="418.5,332.9 419.2,329.9 419.8,332.4 420.5,331.5 421.2,332.8 421.8,331.5 422.5,333.4 423.2,333.4 423.8,333.2 424.5,332.0 425.5,319.4 426.5,331.2 427.2,326.3 427.8,328.9 428.5,325.0 429.2,324.3 429.8,329.0 430.5,330.9 431.2,332.2 431.8,333.2 432.5,332.1 433.2,332.5 433.8,332.1 434.5,330.9 435.2,326.6 435.8,323.7 436.5,329.7 437.2,325.9 437.8,331.0 438.5,330.0 439.2,328.4 439.8,328.1 440.5,324.4 441.2,332.1 441.8,319.7 442.5,328.6 443.2,329.0 443.8,333.3 444.5,328.1 445.2,333.2 445.8,331.9 446.5,322.7 447.2,275.0 448.0,320.9 448.5,322.0 449.1,328.0 449.8,328.4 450.5,326.9 451.1,328.9 451.8,329.9 452.5,331.3 453.1,330.6 453.8,332.9 454.5,329.2 455.1,332.7 455.8,332.4 456.5,332.2 457.1,331.5 457.8,329.9 458.5,330.4 459.1,332.2 459.8,330.4 460.5,332.5 461.1,332.5 461.8,328.3 462.5,329.7 463.1,325.0 463.8,327.8 464.5,332.1 465.1,332.2 465.8,326.3 466.5,331.6 467.1,332.0 467.8,333.0 468.5,332.1 469.1,331.9 469.8,331.6 470.5,331.2 471.1,333.1 471.8,330.7 472.5,331.6 473.1,331.1 473.8,330.2 474.5,331.6 475.1,331.9 475.8,330.9 476.5,322.7 477.0,304.7 478.0,324.9 478.5,328.0 479.1,332.2 479.8,333.7 480.5,331.7 481.1,333.5 481.8,333.6 482.5,333.6 483.1,333.6 483.8,333.6 484.5,333.4 485.1,333.0 485.8,331.7 486.5,331.9 487.1,333.7 487.8,332.0 488.5,332.1 489.1,332.4 489.8,331.7 490.5,333.0 491.1,330.9 491.8,331.9 492.5,333.5 493.1,332.7 493.8,333.2 494.5,332.9 495.1,333.4 495.8,332.6 496.5,332.6 497.1,332.8 497.8,332.9 498.5,332.0 499.1,332.8 499.8,333.2 500.5,333.1 501.1,331.1 501.8,333.5 502.4,330.1 503.1,333.0 503.8,332.4 504.4,331.7 505.1,333.1 505.8,332.5 506.7,315.2 507.1,324.2 507.8,331.9 508.4,332.9 509.1,332.2 509.8,333.7 510.4,332.7 511.1,332.7 511.8,332.8 512.4,333.3 513.1,332.4 513.8,333.4 514.4,332.8 515.1,333.5 515.8,333.5 516.4,331.0 517.1,332.2 517.8,333.0 518.4,331.6 519.1,331.8 519.8,333.6 520.4,333.7 521.1,332.8 521.8,332.2 522.4,332.1 523.1,332.5 523.8,332.7 524.4,333.5 525.1,333.1 525.8,333.0 526.4,333.7 527.1,333.1 527.8,332.9 528.4,332.3 529.1,333.0 529.8,332.0 530.4,332.6 531.1,331.2 531.8,332.5 532.4,332.4 533.1,333.2 533.8,332.8 534.4,333.3 535.1,331.9 535.9,315.9 536.4,327.1 537.1,331.3 537.8,332.2 538.4,331.4 539.1,331.8 539.8,332.3 540.4,333.5 541.1,331.6 541.8,331.0 542.4,332.3 543.1,333.3 543.8,330.6 544.4,332.3 545.1,333.3 545.8,330.2 546.4,332.5 547.1,331.0 547.8,333.0 548.4,332.7 549.1,332.7 549.8,333.1 550.4,333.4 551.1,332.6 551.8,333.2 552.4,332.2 553.1,333.8 553.8,331.6 554.4,331.4 555.1,333.5 555.8,332.8 556.4,332.5 557.1,332.9 557.7,333.1 558.4,333.4 559.1,333.2 559.7,332.6 560.4,332.8 561.0,329.9 561.7,333.2 562.4,331.6 563.0,326.9 563.7,331.7 564.5,314.9 565.1,327.7 565.7,323.7 566.2,308.9 567.1,332.8 567.7,330.3 568.3,322.9 569.1,330.7 570.0,329.9 570.4,331.9 571.1,331.6 571.7,333.5 572.4,331.9 573.1,333.6 573.7,332.3 574.4,331.1 575.1,333.1 575.7,333.8 576.4,330.5 577.1,332.2 577.7,333.2 578.4,332.4 579.1,331.2 579.7,331.9 580.4,333.2 581.1,333.5 581.7,332.4 582.5,329.9 583.1,331.9 583.7,333.0 584.4,332.5 585.0,328.9 585.7,333.3 586.4,333.6 587.1,333.3 588.0,330.9 588.4,331.4 589.1,330.6 589.7,332.4 590.4,331.8 591.1,330.8 591.7,331.7 592.4,332.6 593.1,333.4 593.7,332.6 594.7,316.6 595.1,324.8 595.7,333.6 596.4,327.8 596.8,317.9 597.7,332.3 598.4,331.7 599.1,332.7 599.7,332.7 600.4,332.4 601.1,333.0 601.7,333.1 602.4,332.8 603.1,333.5 603.7,333.1 604.4,332.7 605.1,333.0 605.7,333.2 606.4,333.5 607.1,333.7 607.7,333.1 608.4,333.0 609.1,333.6 609.7,333.7 610.4,333.2 611.0,333.6 611.7,332.1 612.4,331.8 613.0,331.2 613.7,332.2 614.4,332.9 615.0,332.5 615.7,333.5 616.4,333.8 617.0,333.3 617.7,332.6 618.4,333.4 619.0,333.2 619.7,332.5 620.4,332.9 621.0,333.3 621.7,332.7 622.4,333.5 623.0,332.0 623.7,333.0 624.4,325.2 624.8,316.6 625.7,332.8 626.4,333.3 627.0,333.3 627.7,333.7 628.4,333.3 629.0,333.1 629.7,332.8 630.4,332.5 631.0,332.2 631.7,333.5 632.4,333.1 633.0,333.3 633.7,333.7 634.4,333.6 635.0,333.3 635.7,333.3 636.4,333.4 637.0,333.4 637.7,333.0 638.4,333.3 639.0,333.2 639.7,333.7 640.4,333.3 641.0,333.6 641.7,333.4 642.4,333.4 643.0,333.6 643.7,333.4 644.4,333.8 645.0,333.6 645.7,333.7 646.4,333.4 647.0,333.0 647.7,333.7 648.4,333.6 649.0,333.2 649.7,333.8 650.4,333.2 651.0,333.7 651.7,333.3 652.4,333.2 653.0,333.3 653.9,326.1 654.4,330.1 655.0,333.4 655.7,333.5 656.4,333.3 657.0,333.7 657.7,333.8 658.4,333.4 659.0,333.9 659.7,332.9 660.4,333.1 661.0,333.0 661.7,333.7 662.4,333.3 663.0,333.9 663.7,333.3 664.4,333.8 665.0,333.2 665.7,333.5 666.3,333.5 667.0,333.2 667.7,333.9 668.3,333.2 669.0,333.1 669.7,333.5 670.3,332.9 671.0,333.3 671.7,333.4 672.3,333.6 673.0,333.5 673.7,333.9 674.3,333.7 675.0,333.5 675.7,333.7 676.3,333.6 677.0,333.4 677.7,333.4 678.3,333.6 679.0,333.6 679.7,333.4 680.3,333.6 681.0,333.4 681.7,333.5 682.3,332.8 683.0,333.5 683.7,332.9 684.3,330.4 684.7,328.5 685.7,333.0 686.3,333.5 687.0,333.7 687.7,333.0 688.3,333.6 689.0,333.4 689.7,333.8 690.3,333.6 691.0,333.8 691.7,333.9 692.3,333.2 693.0,333.3" fill="none" stroke="#00f" stroke-width="0.65" stroke-linejoin="round"/>
</g>
<rect x="418" y="270.5" width="275.5" height="64.4" fill="none" stroke="#404040" stroke-width="1"/>
<path d="M473.1 270.5v3M473.1 334.9v-3M528.2 270.5v3M528.2 334.9v-3M583.3 270.5v3M583.3 334.9v-3M638.4 270.5v3M638.4 334.9v-3" stroke="#404040" stroke-width="1" fill="none"/>
<text x="412.5" y="276.5" text-anchor="end" font-size="16">0.5</text>
<text x="412.5" y="340.9" text-anchor="end" font-size="16">0</text>
<ellipse cx="425.8" cy="320.9" rx="8" ry="5.2" fill="none" stroke="#f44" stroke-width="0.9" stroke-dasharray="11.13 5.83 9.01 5.83 12.72 200"/>
<ellipse cx="445.9" cy="296.7" rx="7.9" ry="4.5" fill="none" stroke="#f44" stroke-width="0.9" stroke-dasharray="10.60 5.55 8.58 5.55 12.12 200"/>
<ellipse cx="477.2" cy="313.8" rx="7.9" ry="5.6" fill="none" stroke="#f44" stroke-width="0.9" stroke-dasharray="11.29 5.92 9.14 5.92 12.91 200"/>
<ellipse cx="505.6" cy="319.8" rx="8" ry="5.3" fill="none" stroke="#f44" stroke-width="0.9" stroke-dasharray="11.19 5.86 9.06 5.86 12.79 200"/>
<ellipse cx="535" cy="319.7" rx="8.9" ry="4.5" fill="none" stroke="#f44" stroke-width="0.9" stroke-dasharray="11.63 6.09 9.42 6.09 13.29 200"/>
<ellipse cx="565.7" cy="317.6" rx="8.4" ry="5.9" fill="none" stroke="#f44" stroke-width="0.9" stroke-dasharray="11.97 6.27 9.69 6.27 13.68 200"/>
<ellipse cx="594.1" cy="324" rx="8.1" ry="6" fill="none" stroke="#f44" stroke-width="0.9" stroke-dasharray="11.76 6.16 9.52 6.16 13.44 200"/>
<ellipse cx="624.5" cy="322.4" rx="8.7" ry="5.4" fill="none" stroke="#f44" stroke-width="0.9" stroke-dasharray="11.94 6.26 9.67 6.26 13.65 200"/>
<clipPath id="cl3"><rect x="56.5" y="391.0" width="274.5" height="64.5"/></clipPath>
<g clip-path="url(#cl3)">
<polygon points="57.0,417.6 58.0,417.6 58.0,415.6 59.0,415.6 59.0,413.4 60.0,413.4 60.0,418.1 61.0,418.1 61.0,415.4 62.0,415.4 62.0,416.1 63.0,416.1 63.0,416.2 64.0,416.2 64.0,417.4 65.0,417.4 65.0,417.4 66.0,417.4 66.0,417.4 67.0,417.4 67.0,419.9 68.0,419.9 68.0,418.4 69.0,418.4 69.0,415.5 70.0,415.5 70.0,414.6 71.0,414.6 71.0,417.3 72.0,417.3 72.0,415.0 73.0,415.0 73.0,414.0 74.0,414.0 74.0,416.9 75.0,416.9 75.0,411.1 76.0,411.1 76.0,413.8 77.0,413.8 77.0,416.6 78.0,416.6 78.0,414.3 79.0,414.3 79.0,418.9 80.0,418.9 80.0,421.0 81.0,421.0 81.0,418.6 82.0,418.6 82.0,417.1 83.0,417.1 83.0,411.6 84.0,411.6 84.0,414.9 85.0,414.9 85.0,419.3 86.0,419.3 86.0,417.3 87.0,417.3 87.0,420.7 88.0,420.7 88.0,418.4 89.0,418.4 89.0,416.6 90.0,416.6 90.0,416.6 91.0,416.6 91.0,416.8 92.0,416.8 92.0,418.6 93.0,418.6 93.0,418.7 94.0,418.7 94.0,419.3 95.0,419.3 95.0,417.4 96.0,417.4 96.0,416.7 97.0,416.7 97.0,417.6 98.0,417.6 98.0,416.9 99.0,416.9 99.0,413.9 100.0,413.9 100.0,417.3 101.0,417.3 101.0,415.3 102.0,415.3 102.0,413.2 103.0,413.2 103.0,417.7 104.0,417.7 104.0,419.5 105.0,419.5 105.0,415.7 106.0,415.7 106.0,417.2 107.0,417.2 107.0,420.5 108.0,420.5 108.0,415.2 109.0,415.2 109.0,414.9 110.0,414.9 110.0,417.7 111.0,417.7 111.0,416.2 112.0,416.2 112.0,417.4 113.0,417.4 113.0,413.3 114.0,413.3 114.0,417.8 115.0,417.8 115.0,414.1 116.0,414.1 116.0,413.7 117.0,413.7 117.0,413.5 118.0,413.5 118.0,414.3 119.0,414.3 119.0,415.5 120.0,415.5 120.0,415.8 121.0,415.8 121.0,418.3 122.0,418.3 122.0,420.6 123.0,420.6 123.0,416.8 124.0,416.8 124.0,415.2 125.0,415.2 125.0,418.0 126.0,418.0 126.0,417.4 127.0,417.4 127.0,416.8 128.0,416.8 128.0,417.2 129.0,417.2 129.0,414.3 130.0,414.3 130.0,417.9 131.0,417.9 131.0,416.0 132.0,416.0 132.0,417.6 133.0,417.6 133.0,420.0 134.0,420.0 134.0,420.3 135.0,420.3 135.0,412.3 136.0,412.3 136.0,413.0 137.0,413.0 137.0,411.7 138.0,411.7 138.0,419.1 139.0,419.1 139.0,413.7 140.0,413.7 140.0,416.6 141.0,416.6 141.0,417.8 142.0,417.8 142.0,418.9 143.0,418.9 143.0,412.8 144.0,412.8 144.0,416.2 145.0,416.2 145.0,413.2 146.0,413.2 146.0,417.7 147.0,417.7 147.0,417.3 148.0,417.3 148.0,419.6 149.0,419.6 149.0,416.6 150.0,416.6 150.0,413.8 151.0,413.8 151.0,417.6 152.0,417.6 152.0,416.9 153.0,416.9 153.0,415.5 154.0,415.5 154.0,417.2 155.0,417.2 155.0,417.6 156.0,417.6 156.0,414.8 157.0,414.8 157.0,416.6 158.0,416.6 158.0,416.7 159.0,416.7 159.0,416.9 160.0,416.9 160.0,421.0 161.0,421.0 161.0,417.3 162.0,417.3 162.0,416.1 163.0,416.1 163.0,417.6 164.0,417.6 164.0,419.0 165.0,419.0 165.0,421.4 166.0,421.4 166.0,422.4 167.0,422.4 167.0,415.9 168.0,415.9 168.0,417.8 169.0,417.8 169.0,417.4 170.0,417.4 170.0,416.1 171.0,416.1 171.0,419.0 172.0,419.0 172.0,412.8 173.0,412.8 173.0,416.9 174.0,416.9 174.0,417.5 175.0,417.5 175.0,418.6 176.0,418.6 176.0,418.9 177.0,418.9 177.0,416.4 178.0,416.4 178.0,420.5 179.0,420.5 179.0,417.3 180.0,417.3 180.0,418.5 181.0,418.5 181.0,414.2 182.0,414.2 182.0,420.6 183.0,420.6 183.0,418.0 184.0,418.0 184.0,416.0 185.0,416.0 185.0,419.7 186.0,419.7 186.0,417.7 187.0,417.7 187.0,416.4 188.0,416.4 188.0,416.5 189.0,416.5 189.0,420.2 190.0,420.2 190.0,417.8 191.0,417.8 191.0,417.2 192.0,417.2 192.0,413.3 193.0,413.3 193.0,411.6 194.0,411.6 194.0,416.8 195.0,416.8 195.0,417.3 196.0,417.3 196.0,419.2 197.0,419.2 197.0,418.5 198.0,418.5 198.0,418.6 199.0,418.6 199.0,421.0 200.0,421.0 200.0,415.1 201.0,415.1 201.0,416.3 202.0,416.3 202.0,419.5 203.0,419.5 203.0,416.6 204.0,416.6 204.0,416.1 205.0,416.1 205.0,417.8 206.0,417.8 206.0,418.8 207.0,418.8 207.0,416.2 208.0,416.2 208.0,416.6 209.0,416.6 209.0,418.9 210.0,418.9 210.0,418.1 211.0,418.1 211.0,418.8 212.0,418.8 212.0,415.5 213.0,415.5 213.0,420.2 214.0,420.2 214.0,414.6 215.0,414.6 215.0,417.6 216.0,417.6 216.0,418.4 217.0,418.4 217.0,415.5 218.0,415.5 218.0,418.7 219.0,418.7 219.0,419.3 220.0,419.3 220.0,417.2 221.0,417.2 221.0,413.5 222.0,413.5 222.0,418.2 223.0,418.2 223.0,421.5 224.0,421.5 224.0,416.6 225.0,416.6 225.0,421.5 226.0,421.5 226.0,419.4 227.0,419.4 227.0,417.2 228.0,417.2 228.0,418.3 229.0,418.3 229.0,418.7 230.0,418.7 230.0,414.6 231.0,414.6 231.0,417.8 232.0,417.8 232.0,420.1 233.0,420.1 233.0,416.5 234.0,416.5 234.0,420.9 235.0,420.9 235.0,419.6 236.0,419.6 236.0,418.9 237.0,418.9 237.0,418.7 238.0,418.7 238.0,418.7 239.0,418.7 239.0,420.7 240.0,420.7 240.0,417.4 241.0,417.4 241.0,413.3 242.0,413.3 242.0,418.8 243.0,418.8 243.0,418.1 244.0,418.1 244.0,417.1 245.0,417.1 245.0,418.5 246.0,418.5 246.0,414.9 247.0,414.9 247.0,417.3 248.0,417.3 248.0,418.0 249.0,418.0 249.0,408.0 250.0,408.0 250.0,414.6 251.0,414.6 251.0,417.9 252.0,417.9 252.0,420.1 253.0,420.1 253.0,416.4 254.0,416.4 254.0,415.8 255.0,415.8 255.0,420.9 256.0,420.9 256.0,420.7 257.0,420.7 257.0,415.3 258.0,415.3 258.0,416.7 259.0,416.7 259.0,418.4 260.0,418.4 260.0,416.9 261.0,416.9 261.0,415.5 262.0,415.5 262.0,414.1 263.0,414.1 263.0,417.8 264.0,417.8 264.0,420.7 265.0,420.7 265.0,418.8 266.0,418.8 266.0,414.4 267.0,414.4 267.0,417.5 268.0,417.5 268.0,416.5 269.0,416.5 269.0,415.9 270.0,415.9 270.0,420.1 271.0,420.1 271.0,417.3 272.0,417.3 272.0,417.6 273.0,417.6 273.0,416.9 274.0,416.9 274.0,419.5 275.0,419.5 275.0,415.6 276.0,415.6 276.0,413.9 277.0,413.9 277.0,418.2 278.0,418.2 278.0,419.2 279.0,419.2 279.0,418.1 280.0,418.1 280.0,420.3 281.0,420.3 281.0,419.5 282.0,419.5 282.0,420.0 283.0,420.0 283.0,420.1 284.0,420.1 284.0,415.5 285.0,415.5 285.0,417.4 286.0,417.4 286.0,418.3 287.0,418.3 287.0,415.4 288.0,415.4 288.0,418.1 289.0,418.1 289.0,415.2 290.0,415.2 290.0,413.7 291.0,413.7 291.0,415.2 292.0,415.2 292.0,416.4 293.0,416.4 293.0,415.0 294.0,415.0 294.0,419.4 295.0,419.4 295.0,419.0 296.0,419.0 296.0,418.5 297.0,418.5 297.0,413.9 298.0,413.9 298.0,407.5 299.0,407.5 299.0,417.6 300.0,417.6 300.0,419.3 301.0,419.3 301.0,416.6 302.0,416.6 302.0,419.0 303.0,419.0 303.0,416.7 304.0,416.7 304.0,415.7 305.0,415.7 305.0,417.5 306.0,417.5 306.0,416.2 307.0,416.2 307.0,416.5 308.0,416.5 308.0,416.2 309.0,416.2 309.0,419.6 310.0,419.6 310.0,415.6 311.0,415.6 311.0,411.7 312.0,411.7 312.0,416.2 313.0,416.2 313.0,420.1 314.0,420.1 314.0,417.5 315.0,417.5 315.0,415.3 316.0,415.3 316.0,418.7 317.0,418.7 317.0,414.2 318.0,414.2 318.0,418.7 319.0,418.7 319.0,420.2 320.0,420.2 320.0,418.8 321.0,418.8 321.0,416.6 322.0,416.6 322.0,416.3 323.0,416.3 323.0,420.3 324.0,420.3 324.0,416.9 325.0,416.9 325.0,415.3 326.0,415.3 326.0,418.3 327.0,418.3 327.0,417.3 328.0,417.3 328.0,417.8 329.0,417.8 329.0,413.2 330.0,413.2 330.0,415.7 331.0,415.7 331.0,424.3 330.0,424.3 330.0,427.6 329.0,427.6 329.0,424.5 328.0,424.5 328.0,423.4 327.0,423.4 327.0,426.5 326.0,426.5 326.0,428.7 325.0,428.7 325.0,428.5 324.0,428.5 324.0,426.9 323.0,426.9 323.0,425.0 322.0,425.0 322.0,428.5 321.0,428.5 321.0,428.6 320.0,428.6 320.0,425.4 319.0,425.4 319.0,431.7 318.0,431.7 318.0,427.5 317.0,427.5 317.0,429.5 316.0,429.5 316.0,424.0 315.0,424.0 315.0,423.0 314.0,423.0 314.0,429.0 313.0,429.0 313.0,430.0 312.0,430.0 312.0,428.1 311.0,428.1 311.0,425.9 310.0,425.9 310.0,427.3 309.0,427.3 309.0,425.0 308.0,425.0 308.0,425.3 307.0,425.3 307.0,425.3 306.0,425.3 306.0,427.4 305.0,427.4 305.0,426.1 304.0,426.1 304.0,434.3 303.0,434.3 303.0,425.4 302.0,425.4 302.0,425.3 301.0,425.3 301.0,425.0 300.0,425.0 300.0,429.8 299.0,429.8 299.0,426.5 298.0,426.5 298.0,425.9 297.0,425.9 297.0,425.9 296.0,425.9 296.0,425.4 295.0,425.4 295.0,427.1 294.0,427.1 294.0,428.3 293.0,428.3 293.0,424.9 292.0,424.9 292.0,431.3 291.0,431.3 291.0,428.4 290.0,428.4 290.0,430.0 289.0,430.0 289.0,425.7 288.0,425.7 288.0,425.9 287.0,425.9 287.0,428.1 286.0,428.1 286.0,426.3 285.0,426.3 285.0,430.6 284.0,430.6 284.0,425.9 283.0,425.9 283.0,426.3 282.0,426.3 282.0,428.3 281.0,428.3 281.0,429.7 280.0,429.7 280.0,427.8 279.0,427.8 279.0,425.1 278.0,425.1 278.0,428.9 277.0,428.9 277.0,431.1 276.0,431.1 276.0,427.4 275.0,427.4 275.0,427.8 274.0,427.8 274.0,425.3 273.0,425.3 273.0,422.7 272.0,422.7 272.0,424.0 271.0,424.0 271.0,431.2 270.0,431.2 270.0,431.7 269.0,431.7 269.0,428.3 268.0,428.3 268.0,425.9 267.0,425.9 267.0,424.0 266.0,424.0 266.0,426.1 265.0,426.1 265.0,425.1 264.0,425.1 264.0,426.3 263.0,426.3 263.0,423.7 262.0,423.7 262.0,426.7 261.0,426.7 261.0,426.6 260.0,426.6 260.0,428.2 259.0,428.2 259.0,427.9 258.0,427.9 258.0,423.4 257.0,423.4 257.0,428.2 256.0,428.2 256.0,426.7 255.0,426.7 255.0,426.3 254.0,426.3 254.0,425.3 253.0,425.3 253.0,426.8 252.0,426.8 252.0,426.5 251.0,426.5 251.0,429.1 250.0,429.1 250.0,423.8 249.0,423.8 249.0,429.1 248.0,429.1 248.0,431.3 247.0,431.3 247.0,425.9 246.0,425.9 246.0,427.7 245.0,427.7 245.0,426.6 244.0,426.6 244.0,423.8 243.0,423.8 243.0,427.3 242.0,427.3 242.0,424.2 241.0,424.2 241.0,426.5 240.0,426.5 240.0,428.0 239.0,428.0 239.0,423.2 238.0,423.2 238.0,420.8 237.0,420.8 237.0,423.4 236.0,423.4 236.0,426.7 235.0,426.7 235.0,426.1 234.0,426.1 234.0,425.4 233.0,425.4 233.0,427.7 232.0,427.7 232.0,429.7 231.0,429.7 231.0,429.8 230.0,429.8 230.0,427.0 229.0,427.0 229.0,425.4 228.0,425.4 228.0,425.3 227.0,425.3 227.0,425.2 226.0,425.2 226.0,425.1 225.0,425.1 225.0,426.9 224.0,426.9 224.0,429.0 223.0,429.0 223.0,435.8 222.0,435.8 222.0,431.4 221.0,431.4 221.0,431.1 220.0,431.1 220.0,426.3 219.0,426.3 219.0,428.8 218.0,428.8 218.0,430.5 217.0,430.5 217.0,424.7 216.0,424.7 216.0,426.2 215.0,426.2 215.0,432.2 214.0,432.2 214.0,430.6 213.0,430.6 213.0,428.7 212.0,428.7 212.0,426.2 211.0,426.2 211.0,423.9 210.0,423.9 210.0,428.7 209.0,428.7 209.0,426.9 208.0,426.9 208.0,420.4 207.0,420.4 207.0,423.8 206.0,423.8 206.0,424.8 205.0,424.8 205.0,426.7 204.0,426.7 204.0,425.4 203.0,425.4 203.0,425.9 202.0,425.9 202.0,427.3 201.0,427.3 201.0,425.8 200.0,425.8 200.0,429.5 199.0,429.5 199.0,427.2 198.0,427.2 198.0,425.5 197.0,425.5 197.0,423.1 196.0,423.1 196.0,424.5 195.0,424.5 195.0,426.1 194.0,426.1 194.0,424.9 193.0,424.9 193.0,423.9 192.0,423.9 192.0,424.2 191.0,424.2 191.0,424.0 190.0,424.0 190.0,425.4 189.0,425.4 189.0,426.2 188.0,426.2 188.0,425.2 187.0,425.2 187.0,426.3 186.0,426.3 186.0,426.6 185.0,426.6 185.0,425.8 184.0,425.8 184.0,425.1 183.0,425.1 183.0,428.1 182.0,428.1 182.0,427.0 181.0,427.0 181.0,424.4 180.0,424.4 180.0,426.3 179.0,426.3 179.0,429.9 178.0,429.9 178.0,424.9 177.0,424.9 177.0,425.9 176.0,425.9 176.0,431.2 175.0,431.2 175.0,426.1 174.0,426.1 174.0,428.0 173.0,428.0 173.0,429.2 172.0,429.2 172.0,428.6 171.0,428.6 171.0,431.7 170.0,431.7 170.0,428.0 169.0,428.0 169.0,432.6 168.0,432.6 168.0,432.0 167.0,432.0 167.0,430.7 166.0,430.7 166.0,426.0 165.0,426.0 165.0,424.6 164.0,424.6 164.0,425.7 163.0,425.7 163.0,425.3 162.0,425.3 162.0,425.7 161.0,425.7 161.0,429.8 160.0,429.8 160.0,431.6 159.0,431.6 159.0,435.3 158.0,435.3 158.0,427.3 157.0,427.3 157.0,425.0 156.0,425.0 156.0,428.6 155.0,428.6 155.0,428.3 154.0,428.3 154.0,429.2 153.0,429.2 153.0,427.4 152.0,427.4 152.0,431.4 151.0,431.4 151.0,428.5 150.0,428.5 150.0,425.0 149.0,425.0 149.0,427.3 148.0,427.3 148.0,425.7 147.0,425.7 147.0,429.6 146.0,429.6 146.0,426.4 145.0,426.4 145.0,424.7 144.0,424.7 144.0,427.2 143.0,427.2 143.0,429.1 142.0,429.1 142.0,426.2 141.0,426.2 141.0,425.3 140.0,425.3 140.0,428.1 139.0,428.1 139.0,432.2 138.0,432.2 138.0,424.1 137.0,424.1 137.0,426.6 136.0,426.6 136.0,428.1 135.0,428.1 135.0,428.4 134.0,428.4 134.0,429.4 133.0,429.4 133.0,423.6 132.0,423.6 132.0,425.0 131.0,425.0 131.0,423.3 130.0,423.3 130.0,428.2 129.0,428.2 129.0,429.4 128.0,429.4 128.0,425.7 127.0,425.7 127.0,425.3 126.0,425.3 126.0,426.2 125.0,426.2 125.0,423.2 124.0,423.2 124.0,424.9 123.0,424.9 123.0,426.2 122.0,426.2 122.0,428.2 121.0,428.2 121.0,428.9 120.0,428.9 120.0,430.2 119.0,430.2 119.0,427.6 118.0,427.6 118.0,428.1 117.0,428.1 117.0,424.5 116.0,424.5 116.0,430.0 115.0,430.0 115.0,427.1 114.0,427.1 114.0,432.4 113.0,432.4 113.0,427.5 112.0,427.5 112.0,426.2 111.0,426.2 111.0,430.4 110.0,430.4 110.0,424.9 109.0,424.9 109.0,424.2 108.0,424.2 108.0,425.9 107.0,425.9 107.0,423.4 106.0,423.4 106.0,426.1 105.0,426.1 105.0,425.6 104.0,425.6 104.0,428.0 103.0,428.0 103.0,430.3 102.0,430.3 102.0,429.8 101.0,429.8 101.0,425.5 100.0,425.5 100.0,425.8 99.0,425.8 99.0,426.4 98.0,426.4 98.0,425.8 97.0,425.8 97.0,424.7 96.0,424.7 96.0,429.6 95.0,429.6 95.0,424.7 94.0,424.7 94.0,425.5 93.0,425.5 93.0,428.5 92.0,428.5 92.0,421.1 91.0,421.1 91.0,425.3 90.0,425.3 90.0,427.5 89.0,427.5 89.0,426.5 88.0,426.5 88.0,428.3 87.0,428.3 87.0,431.4 86.0,431.4 86.0,427.5 85.0,427.5 85.0,425.7 84.0,425.7 84.0,423.6 83.0,423.6 83.0,424.8 82.0,424.8 82.0,423.9 81.0,423.9 81.0,425.0 80.0,425.0 80.0,425.7 79.0,425.7 79.0,422.7 78.0,422.7 78.0,429.0 77.0,429.0 77.0,424.1 76.0,424.1 76.0,424.2 75.0,424.2 75.0,427.5 74.0,427.5 74.0,425.7 73.0,425.7 73.0,424.5 72.0,424.5 72.0,424.6 71.0,424.6 71.0,427.0 70.0,427.0 70.0,425.3 69.0,425.3 69.0,426.6 68.0,426.6 68.0,428.3 67.0,428.3 67.0,427.3 66.0,427.3 66.0,427.1 65.0,427.1 65.0,430.1 64.0,430.1 64.0,428.9 63.0,428.9 63.0,427.9 62.0,427.9 62.0,424.1 61.0,424.1 61.0,426.8 60.0,426.8 60.0,431.3 59.0,431.3 59.0,428.5 58.0,428.5 58.0,429.3 57.0,429.3" fill="#aeaefa"/>
<path d="M57.5 418.4V426.9M58.5 417.7V428.1M63.5 416.8V425.6M71.5 418.1V423.7M78.5 414.9V421.0M80.5 422.0V424.7M82.5 417.8V423.5M93.5 419.5V423.7M99.5 417.9V424.6M101.5 415.8V425.4M102.5 416.6V425.5M104.5 420.9V423.7M106.5 418.0V423.1M107.5 421.5V425.7M115.5 417.8V425.6M118.5 415.1V424.1M120.5 417.5V426.8M124.5 417.2V421.9M126.5 417.4V424.0M127.5 417.5V424.6M134.5 420.9V425.9M136.5 414.2V423.9M144.5 417.0V423.6M148.5 420.5V427.0M149.5 416.7V424.6M150.5 416.6V425.5M151.5 422.0V430.0M152.5 418.6V424.2M155.5 421.4V427.0M157.5 417.1V425.9M158.5 422.4V431.3M159.5 419.9V427.8M160.5 421.3V426.8M162.5 417.0V423.0M163.5 418.5V425.7M166.5 425.3V428.0M167.5 421.1V429.1M170.5 418.9V429.1M173.5 417.4V426.0M174.5 419.4V425.1M175.5 420.6V427.2M176.5 420.1V423.8M179.5 419.2V424.7M180.5 418.5V424.1M186.5 420.6V425.7M193.5 414.0V420.5M195.5 418.7V422.6M197.5 420.6V424.5M201.5 416.5V425.1M206.5 419.4V423.5M207.5 416.8V419.4M208.5 418.0V426.2M209.5 420.0V425.5M215.5 418.2V424.7M216.5 420.2V422.6M218.5 419.9V426.9M221.5 417.8V426.9M224.5 417.7V425.0M225.5 421.6V424.3M230.5 417.0V428.4M232.5 420.4V426.5M234.5 422.5V426.1M237.5 419.3V420.4M241.5 414.5V423.4M246.5 417.2V424.9M250.5 416.8V427.1M252.5 420.3V426.2M254.5 417.0V423.9M255.5 422.6V426.2M256.5 420.8V427.7M258.5 416.8V424.5M264.5 422.1V424.7M266.5 416.5V422.1M268.5 419.2V426.7M269.5 418.8V430.2M270.5 420.4V430.1M271.5 418.4V423.3M272.5 419.2V421.5M275.5 418.6V424.8M276.5 418.8V425.3M278.5 421.1V423.2M288.5 419.7V423.9M293.5 419.4V426.6M298.5 409.9V422.7M306.5 419.3V424.2M309.5 422.2V425.9M310.5 416.4V422.7M311.5 413.0V426.2M312.5 420.4V427.1M313.5 421.8V427.5M319.5 420.5V423.8M324.5 419.8V427.3M325.5 416.7V427.1M326.5 420.1V424.6M327.5 418.5V421.5M329.5 415.4V423.7" stroke="#2020ff" stroke-width="0.85" fill="none"/>
<polyline points="57.5,425.7 58.5,425.3 59.5,419.9 60.5,422.3 61.5,415.4 62.5,426.1 63.5,424.5 64.5,430.1 65.5,425.9 66.5,418.8 67.5,426.2 68.5,426.6 69.5,422.3 70.5,424.6 71.5,422.3 72.5,417.2 73.5,424.5 74.5,422.2 75.5,418.7 76.5,424.1 77.5,416.6 78.5,422.1 79.5,425.7 80.5,424.2 81.5,423.0 82.5,420.4 83.5,423.2 84.5,418.3 85.5,422.8 86.5,431.4 87.5,423.3 88.5,421.6 89.5,426.7 90.5,420.2 91.5,419.9 92.5,424.2 93.5,422.7 94.5,419.3 95.5,417.4 96.5,421.2 97.5,417.6 98.5,418.4 99.5,421.6 100.5,425.5 101.5,419.6 102.5,421.2 103.5,423.7 104.5,421.2 105.5,425.4 106.5,420.7 107.5,421.1 108.5,419.5 109.5,421.6 110.5,423.1 111.5,424.6 112.5,421.9 113.5,428.8 114.5,417.8 115.5,427.3 116.5,419.0 117.5,422.2 118.5,418.1 119.5,421.6 120.5,422.0 121.5,418.3 122.5,424.8 123.5,419.6 124.5,422.5 125.5,420.3 126.5,421.1 127.5,422.8 128.5,421.5 129.5,420.5 130.5,418.8 131.5,420.7 132.5,420.7 133.5,422.8 134.5,421.7 135.5,414.7 136.5,419.2 137.5,416.3 138.5,424.5 139.5,424.3 140.5,421.1 141.5,420.2 142.5,425.6 143.5,421.0 144.5,421.9 145.5,413.2 146.5,419.3 147.5,421.4 148.5,422.2 149.5,421.7 150.5,427.0 151.5,424.8 152.5,426.9 153.5,421.3 154.5,423.0 155.5,420.3 156.5,418.9 157.5,422.7 158.5,417.8 159.5,420.0 160.5,422.0 161.5,417.3 162.5,420.7 163.5,422.4 164.5,419.8 165.5,422.9 166.5,424.7 167.5,423.1 168.5,420.5 169.5,423.2 170.5,426.4 171.5,420.5 172.5,416.3 173.5,416.9 174.5,421.8 175.5,418.9 176.5,425.9 177.5,424.5 178.5,422.9 179.5,426.3 180.5,418.5 181.5,422.8 182.5,422.4 183.5,421.0 184.5,423.3 185.5,419.7 186.5,423.2 187.5,425.2 188.5,421.3 189.5,422.0 190.5,417.8 191.5,421.8 192.5,420.1 193.5,417.6 194.5,425.4 195.5,417.5 196.5,421.9 197.5,421.4 198.5,424.7 199.5,422.5 200.5,419.4 201.5,419.3 202.5,423.5 203.5,421.8 204.5,416.6 205.5,419.2 206.5,423.2 207.5,416.2 208.5,418.2 209.5,422.9 210.5,422.9 211.5,425.3 212.5,428.7 213.5,421.1 214.5,414.6 215.5,423.2 216.5,424.7 217.5,430.5 218.5,418.8 219.5,425.7 220.5,420.7 221.5,431.4 222.5,418.2 223.5,428.1 224.5,425.8 225.5,422.8 226.5,425.2 227.5,425.3 228.5,425.4 229.5,418.7 230.5,422.6 231.5,429.3 232.5,422.5 233.5,419.3 234.5,422.5 235.5,422.7 236.5,423.4 237.5,420.7 238.5,421.5 239.5,428.0 240.5,419.7 241.5,423.0 242.5,424.2 243.5,421.1 244.5,420.7 245.5,427.7 246.5,417.7 247.5,418.3 248.5,426.5 249.5,417.9 250.5,415.1 251.5,425.5 252.5,421.6 253.5,424.7 254.5,420.0 255.5,422.0 256.5,424.0 257.5,422.9 258.5,416.7 259.5,418.4 260.5,419.1 261.5,415.5 262.5,420.5 263.5,419.8 264.5,424.0 265.5,423.6 266.5,417.9 267.5,422.3 268.5,423.8 269.5,426.2 270.5,422.5 271.5,417.3 272.5,421.9 273.5,424.5 274.5,424.2 275.5,427.4 276.5,431.1 277.5,421.9 278.5,423.6 279.5,423.2 280.5,423.8 281.5,426.6 282.5,426.3 283.5,425.5 284.5,419.8 285.5,423.6 286.5,422.7 287.5,416.4 288.5,418.1 289.5,424.2 290.5,421.1 291.5,421.6 292.5,418.2 293.5,422.8 294.5,425.8 295.5,421.8 296.5,419.1 297.5,419.3 298.5,420.2 299.5,421.2 300.5,423.9 301.5,422.2 302.5,419.9 303.5,421.8 304.5,419.1 305.5,422.4 306.5,416.2 307.5,422.9 308.5,422.8 309.5,427.3 310.5,421.9 311.5,419.7 312.5,421.4 313.5,426.5 314.5,422.1 315.5,415.9 316.5,421.1 317.5,423.4 318.5,421.1 319.5,425.2 320.5,422.5 321.5,424.6 322.5,421.2 323.5,421.9 324.5,416.9 325.5,421.2 326.5,423.2 327.5,419.1 328.5,424.0 329.5,422.8 330.5,420.3" fill="none" stroke="#00f" stroke-width="0.3"/>
</g>
<rect x="56.5" y="391" width="274.5" height="64.5" fill="none" stroke="#404040" stroke-width="1"/>
<path d="M111.4 391v3M111.4 455.5v-3M166.3 391v3M166.3 455.5v-3M221.2 391v3M221.2 455.5v-3M276.1 391v3M276.1 455.5v-3M56.5 423.2h3M331 423.2h-3" stroke="#404040" stroke-width="1" fill="none"/>
<text x="51.5" y="396.6" text-anchor="end" font-size="16">1</text>
<text x="51.5" y="428.9" text-anchor="end" font-size="16">0</text>
<text x="51.5" y="461.1" text-anchor="end" font-size="16">-1</text>
<text x="193" y="379" text-anchor="middle" font-size="16" textLength="60.5" lengthAdjust="spacing">Ball Fault</text>
<clipPath id="cr3"><rect x="418.0" y="391.0" width="275.5" height="64.5"/></clipPath>
<g clip-path="url(#cr3)">
<polyline points="418.5,450.7 419.0,427.9 419.4,441.6 419.9,434.5 420.3,432.5 420.8,439.1 421.2,440.1 421.7,439.2 422.1,447.0 422.6,435.2 423.0,435.9 423.5,444.0 423.9,437.4 424.4,432.9 424.9,443.5 425.3,440.0 425.8,430.8 426.2,438.2 426.7,447.7 427.1,439.0 427.6,447.2 428.0,442.9 428.5,446.3 428.9,442.8 429.7,420.5 430.3,437.9 430.8,446.8 431.2,450.4 431.7,450.7 432.1,452.0 432.6,446.2 433.0,446.9 433.5,445.8 433.9,448.4 434.4,450.2 434.8,443.0 435.3,439.4 435.7,439.6 436.2,442.3 436.6,429.5 437.1,446.1 437.6,451.1 438.0,444.2 438.5,443.8 438.9,449.4 439.4,443.1 439.8,449.1 440.3,437.6 440.7,446.9 441.2,438.3 441.6,434.5 442.1,434.0 442.5,436.1 443.0,438.0 443.4,429.3 443.9,440.4 444.4,449.8 444.8,449.3 445.3,451.1 445.7,445.5 446.2,446.0 446.6,450.6 447.1,450.9 447.5,441.2 448.0,443.1 448.4,447.9 448.9,447.9 449.4,442.4 449.8,444.6 450.3,436.3 450.7,449.9 451.2,449.3 451.6,449.0 452.1,443.5 452.5,437.9 453.0,445.3 453.4,440.0 453.9,450.6 454.3,444.3 454.8,445.4 455.3,446.1 455.7,441.9 456.2,432.3 456.6,439.2 457.1,440.5 457.5,450.5 458.0,446.2 458.4,442.5 458.9,442.2 459.3,443.6 459.8,441.5 460.2,451.4 460.7,440.8 461.1,443.3 461.6,444.5 462.1,451.4 462.5,445.9 463.0,441.4 463.4,447.2 463.9,447.6 464.3,450.6 464.8,449.4 465.2,438.6 465.7,449.4 466.1,442.5 466.6,444.5 467.0,441.6 467.5,450.2 468.0,446.5 468.4,450.7 468.9,441.7 469.3,437.8 469.8,451.9 470.2,437.8 470.7,442.9 471.1,438.1 471.6,437.3 472.0,442.3 472.5,445.1 472.9,439.9 473.4,447.6 473.9,443.3 474.3,442.8 474.8,445.4 475.2,447.8 475.7,444.2 476.1,446.2 476.8,434.2 477.5,446.3 477.9,443.6 478.4,450.1 478.8,451.0 479.3,449.0 479.8,445.6 480.2,444.6 480.7,434.8 481.1,436.0 481.6,442.1 482.0,444.6 482.5,447.8 482.9,444.4 483.4,451.5 483.8,439.6 484.3,447.3 484.7,446.7 485.2,452.0 485.7,447.1 486.1,444.7 486.6,448.2 487.0,446.6 487.5,433.6 487.9,441.9 488.4,451.1 488.8,444.9 489.5,431.3 490.2,444.5 490.6,449.8 491.1,447.5 491.5,451.6 492.0,447.5 492.5,443.2 492.9,447.7 493.4,445.6 493.8,444.0 494.3,447.2 494.7,443.8 495.2,446.0 495.6,445.4 496.1,442.3 496.5,441.7 497.0,446.5 497.4,447.3 497.9,448.1 498.4,446.6 498.8,451.6 499.3,448.2 499.7,439.7 500.2,438.6 500.6,448.8 501.1,443.4 501.5,451.4 502.0,447.4 502.4,445.3 502.9,449.0 503.3,448.0 503.8,444.6 504.3,440.3 504.7,442.2 505.2,451.2 505.6,445.7 506.1,451.2 506.5,447.1 507.0,446.4 507.4,444.7 507.9,446.1 508.3,448.4 508.8,447.7 509.2,448.9 509.7,441.9 510.2,443.2 510.6,441.0 511.1,443.4 511.5,443.7 512.0,443.8 512.4,447.3 512.9,448.8 513.3,444.3 513.8,451.6 514.2,447.3 514.7,448.4 515.1,448.0 515.6,451.0 516.0,451.4 516.5,447.0 517.0,449.9 517.4,451.1 517.9,450.2 518.3,445.3 518.8,446.8 519.2,451.6 519.7,446.6 520.1,451.7 520.6,444.4 521.0,442.2 521.5,444.7 521.9,446.9 522.4,451.7 522.9,449.1 523.3,448.9 523.8,451.7 524.2,451.3 524.7,450.8 525.1,447.5 525.6,446.5 526.0,449.3 526.5,451.6 526.9,449.5 527.4,450.3 527.8,450.6 528.3,447.5 528.8,448.3 529.2,444.4 529.7,449.3 530.1,445.9 530.6,443.9 531.0,451.7 531.5,450.6 531.9,451.8 532.4,438.7 532.8,439.7 533.3,442.3 533.7,450.8 534.2,448.6 534.7,451.9 535.1,444.3 535.6,446.4 536.0,446.3 536.5,442.0 536.9,441.6 537.4,443.9 537.8,451.7 538.3,452.1 538.7,452.6 539.2,452.2 539.6,449.8 540.1,449.5 540.6,446.4 541.0,447.0 541.5,450.1 541.9,445.2 542.4,448.2 542.8,445.2 543.3,444.3 543.7,450.4 544.2,450.8 544.6,447.7 545.1,451.3 545.5,450.5 546.0,449.7 546.4,446.2 546.9,452.0 547.4,445.0 547.8,451.8 548.3,443.1 548.7,450.4 549.2,445.6 549.6,446.7 550.1,447.4 550.5,448.6 551.0,449.9 551.4,447.7 551.9,449.6 552.3,451.1 552.8,448.9 553.3,450.9 553.7,451.5 554.2,449.1 554.6,450.8 555.1,447.2 555.5,446.2 556.0,450.9 556.4,451.5 556.9,447.7 557.3,449.1 557.8,447.9 558.2,449.7 558.7,451.1 559.2,451.7 559.6,447.0 560.1,448.7 560.5,444.4 561.0,443.3 561.4,449.7 561.9,451.4 562.3,452.3 562.8,450.4 563.2,451.1 563.7,450.6 564.1,444.3 564.6,437.9 565.1,448.2 565.5,451.0 566.0,448.4 566.4,449.4 566.9,446.6 567.3,446.0 567.8,445.9 568.2,445.5 568.7,447.9 569.1,447.8 569.6,448.5 570.0,447.6 570.5,450.2 570.9,444.7 571.4,441.0 571.9,446.9 572.3,442.1 572.8,449.2 573.2,450.6 573.7,446.8 574.1,447.5 574.6,449.8 575.0,444.5 575.5,450.0 575.9,449.8 576.4,446.5 576.8,447.0 577.3,447.3 577.8,449.1 578.2,449.7 578.7,450.3 579.1,450.4 579.6,451.4 580.0,449.0 580.5,451.1 580.9,452.1 581.4,449.7 581.8,450.3 582.3,445.7 582.7,451.4 583.2,451.1 583.7,449.7 584.1,446.7 584.6,447.9 585.0,450.1 585.5,449.9 585.9,445.0 586.4,448.1 586.8,446.1 587.3,447.0 587.7,444.3 588.2,441.2 588.6,441.5 589.1,450.5 589.6,443.6 590.0,447.2 590.5,447.9 590.9,451.9 591.4,449.8 591.8,446.6 592.3,448.1 592.7,446.8 593.2,448.0 593.6,443.7 594.1,446.7 594.5,442.4 595.0,437.0 595.5,443.8 595.9,447.2 596.4,449.9 596.8,450.5 597.3,448.3 597.7,448.1 598.2,448.5 598.6,445.0 599.1,448.9 599.5,448.6 600.0,450.1 600.4,450.8 600.9,445.1 601.3,451.2 601.8,452.3 602.3,446.2 602.7,452.3 603.2,450.1 603.6,449.3 604.1,450.5 604.5,452.4 605.0,449.6 605.4,445.6 605.9,447.1 606.3,448.3 606.8,448.2 607.2,450.4 607.7,449.5 608.2,450.7 608.6,448.0 609.1,448.6 609.5,445.4 610.0,444.5 610.4,445.6 610.9,445.8 611.3,451.8 611.8,447.7 612.2,450.8 612.7,452.1 613.1,449.4 613.6,448.0 614.1,443.8 614.5,444.7 615.0,441.9 615.4,450.8 615.9,442.2 616.3,447.3 616.8,452.3 617.2,443.0 617.7,446.2 618.1,445.9 618.6,447.2 619.0,442.7 619.5,440.7 620.0,444.0 620.4,445.2 620.9,448.8 621.3,445.4 621.8,452.1 622.2,448.4 622.7,447.0 623.1,444.3 623.6,446.5 624.0,448.3 624.5,442.9 624.9,446.5 625.4,451.3 625.8,452.1 626.3,445.1 626.8,443.3 627.2,450.0 627.7,443.5 628.1,445.2 628.6,444.1 629.0,446.1 629.5,448.8 629.9,441.5 630.4,445.0 630.8,450.7 631.3,451.7 631.7,450.0 632.2,452.2 632.7,450.0 633.1,449.6 633.6,449.2 634.0,448.1 634.5,449.7 634.9,448.4 635.4,449.2 635.8,452.4 636.3,447.7 636.7,447.3 637.2,450.3 637.6,450.7 638.1,451.6 638.6,449.8 639.0,450.3 639.5,447.9 639.9,445.6 640.4,445.9 640.8,449.4 641.3,448.7 641.7,449.3 642.2,452.3 642.6,451.9 643.1,450.6 643.5,448.8 644.0,447.1 644.5,452.9 644.9,452.1 645.4,451.0 645.8,452.9 646.3,448.9 646.7,452.8 647.2,450.6 647.6,446.6 648.1,449.5 648.5,451.1 649.0,451.9 649.4,451.7 649.9,452.3 650.4,448.0 650.8,445.9 651.3,449.3 651.7,451.4 652.2,449.4 652.6,450.5 653.1,451.2 653.5,450.6 654.0,451.7 654.4,449.3 654.9,451.4 655.3,445.8 655.8,448.7 656.2,448.1 656.7,451.4 657.2,448.8 657.6,448.7 658.1,446.8 658.5,449.4 659.0,447.1 659.4,450.1 659.9,451.7 660.3,446.5 660.8,445.8 661.2,450.1 661.7,446.7 662.1,447.2 662.6,448.4 663.1,449.8 663.5,451.5 664.0,452.5 664.4,451.2 664.9,449.2 665.3,449.0 665.8,448.6 666.2,451.6 666.7,452.0 667.1,450.7 667.6,450.7 668.0,451.9 668.5,452.4 669.0,449.4 669.4,449.8 669.9,450.2 670.3,448.0 670.8,449.1 671.2,451.0 671.7,450.0 672.1,450.7 672.6,452.3 673.0,450.6 673.5,450.3 673.9,449.4 674.4,448.5 674.9,448.2 675.3,448.3 675.8,448.8 676.2,449.4 676.7,450.0 677.1,451.0 677.6,452.2 678.0,452.3 678.5,452.0 678.9,451.5 679.4,451.2 679.8,450.6 680.3,447.3 680.7,453.2 681.2,446.5 681.7,446.0 682.1,446.6 682.6,449.4 683.0,449.7 683.5,446.2 683.9,451.4 684.4,450.9 684.8,446.6 685.3,451.5 685.7,448.4 686.2,450.1 686.6,451.6 687.1,450.1 687.6,448.5 688.0,446.8 688.5,450.4 688.9,450.3 689.4,446.3 689.8,448.4 690.3,448.3 690.7,447.9 691.2,447.2 691.6,450.5 692.1,450.2 692.5,453.1 693.0,452.2" fill="none" stroke="#00f" stroke-width="0.65" stroke-linejoin="round"/>
</g>
<rect x="418" y="391" width="275.5" height="64.5" fill="none" stroke="#404040" stroke-width="1"/>
<path d="M473.1 391v3M473.1 455.5v-3M528.2 391v3M528.2 455.5v-3M583.3 391v3M583.3 455.5v-3M638.4 391v3M638.4 455.5v-3M418 423.2h3M693.5 423.2h-3" stroke="#404040" stroke-width="1" fill="none"/>
<text x="412.5" y="397" text-anchor="end" font-size="16">0.04</text>
<text x="412.5" y="429.2" text-anchor="end" font-size="16">0.02</text>
<text x="412.5" y="461.5" text-anchor="end" font-size="16">0</text>
<text x="57.6" y="474" text-anchor="middle" font-size="16" letter-spacing="0.45">0</text>
<text x="419.1" y="474" text-anchor="middle" font-size="16" letter-spacing="0.45">0</text>
<text x="112.5" y="474" text-anchor="middle" font-size="16" letter-spacing="0.45">0.05</text>
<text x="474.2" y="474" text-anchor="middle" font-size="16" letter-spacing="0.45">200</text>
<text x="167.4" y="474" text-anchor="middle" font-size="16" letter-spacing="0.45">0.1</text>
<text x="529.3" y="474" text-anchor="middle" font-size="16" letter-spacing="0.45">400</text>
<text x="222.3" y="474" text-anchor="middle" font-size="16" letter-spacing="0.45">0.15</text>
<text x="584.4" y="474" text-anchor="middle" font-size="16" letter-spacing="0.45">600</text>
<text x="277.2" y="474" text-anchor="middle" font-size="16" letter-spacing="0.45">0.2</text>
<text x="639.5" y="474" text-anchor="middle" font-size="16" letter-spacing="0.45">800</text>
<text x="332.1" y="474" text-anchor="middle" font-size="16" letter-spacing="0.45">0.25</text>
<text x="694.6" y="474" text-anchor="middle" font-size="16" letter-spacing="0.45">1000</text>
<text x="192.8" y="496" text-anchor="middle" font-size="16" textLength="56" lengthAdjust="spacing">Time (s)</text>
<text x="553.8" y="495.5" text-anchor="middle" font-size="16" textLength="104" lengthAdjust="spacing">Frequency (Hz)</text>
<text transform="translate(21.2,307.8) rotate(-90)" font-size="16.5"><tspan textLength="105.5" lengthAdjust="spacing">Amplitude (m/s</tspan><tspan dx="2.2" dy="-8" font-size="13.2">2</tspan><tspan dx="1.2" dy="8">)</tspan></text>
<text transform="translate(380.3,302.2) rotate(-90)" font-size="16.5"><tspan textLength="105.5" lengthAdjust="spacing">Amplitude (m/s</tspan><tspan dx="2.2" dy="-8" font-size="13.2">2</tspan><tspan dx="1.2" dy="8">)</tspan></text>
<line x1="337" y1="59.5" x2="357.5" y2="59.5" stroke="#00f" stroke-width="1"/>
<polygon points="354.5,53 371,59.5 354.5,66 357.5,59.5" fill="#00f"/>
<line x1="337" y1="173.5" x2="361" y2="173.5" stroke="#00f" stroke-width="1"/>
<polygon points="358.5,167 374,173.5 358.5,180 361,173.5" fill="#00f"/>
<line x1="338" y1="312.5" x2="364.5" y2="312.5" stroke="#00f" stroke-width="1"/>
<polygon points="362,306 379,312.5 362,319 364.5,312.5" fill="#00f"/>
<line x1="339" y1="428" x2="361" y2="428" stroke="#00f" stroke-width="1"/>
<polygon points="358.5,421.5 374,428 358.5,434.5 361,428" fill="#00f"/>
</svg></body></html>
